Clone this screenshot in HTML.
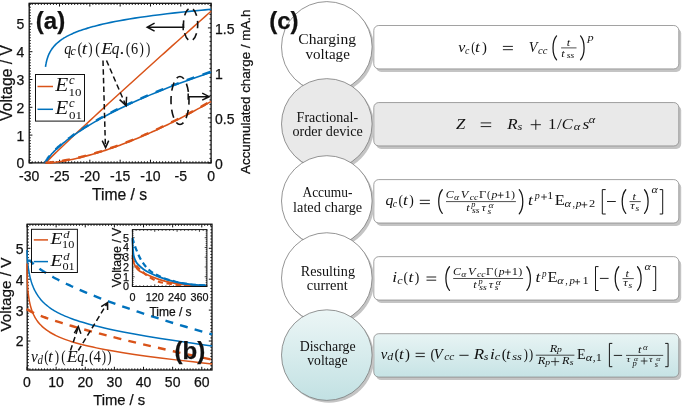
<!DOCTYPE html>
<html><head><meta charset="utf-8"><style>
html,body{margin:0;padding:0;background:#fff;width:685px;height:406px;overflow:hidden}
svg{display:block}
text{fill:#111}
svg{will-change:transform}
</style></head><body>
<svg width="685" height="406" viewBox="0 0 685 406">
<rect width="685" height="406" fill="#fff"/>
<path d="M29.2 162.9 v-3.2 M29.2 3.3 v3.2 M32.23 162.9 v-1.6 M32.23 3.3 v1.6 M35.26 162.9 v-1.6 M35.26 3.3 v1.6 M38.3 162.9 v-1.6 M38.3 3.3 v1.6 M41.33 162.9 v-1.6 M41.33 3.3 v1.6 M44.36 162.9 v-1.6 M44.36 3.3 v1.6 M47.39 162.9 v-1.6 M47.39 3.3 v1.6 M50.42 162.9 v-1.6 M50.42 3.3 v1.6 M53.45 162.9 v-1.6 M53.45 3.3 v1.6 M56.48 162.9 v-1.6 M56.48 3.3 v1.6 M59.52 162.9 v-3.2 M59.52 3.3 v3.2 M62.55 162.9 v-1.6 M62.55 3.3 v1.6 M65.58 162.9 v-1.6 M65.58 3.3 v1.6 M68.61 162.9 v-1.6 M68.61 3.3 v1.6 M71.64 162.9 v-1.6 M71.64 3.3 v1.6 M74.67 162.9 v-1.6 M74.67 3.3 v1.6 M77.71 162.9 v-1.6 M77.71 3.3 v1.6 M80.74 162.9 v-1.6 M80.74 3.3 v1.6 M83.77 162.9 v-1.6 M83.77 3.3 v1.6 M86.8 162.9 v-1.6 M86.8 3.3 v1.6 M89.83 162.9 v-3.2 M89.83 3.3 v3.2 M92.86 162.9 v-1.6 M92.86 3.3 v1.6 M95.9 162.9 v-1.6 M95.9 3.3 v1.6 M98.93 162.9 v-1.6 M98.93 3.3 v1.6 M101.96 162.9 v-1.6 M101.96 3.3 v1.6 M104.99 162.9 v-1.6 M104.99 3.3 v1.6 M108.02 162.9 v-1.6 M108.02 3.3 v1.6 M111.06 162.9 v-1.6 M111.06 3.3 v1.6 M114.09 162.9 v-1.6 M114.09 3.3 v1.6 M117.12 162.9 v-1.6 M117.12 3.3 v1.6 M120.15 162.9 v-3.2 M120.15 3.3 v3.2 M123.18 162.9 v-1.6 M123.18 3.3 v1.6 M126.21 162.9 v-1.6 M126.21 3.3 v1.6 M129.25 162.9 v-1.6 M129.25 3.3 v1.6 M132.28 162.9 v-1.6 M132.28 3.3 v1.6 M135.31 162.9 v-1.6 M135.31 3.3 v1.6 M138.34 162.9 v-1.6 M138.34 3.3 v1.6 M141.37 162.9 v-1.6 M141.37 3.3 v1.6 M144.4 162.9 v-1.6 M144.4 3.3 v1.6 M147.44 162.9 v-1.6 M147.44 3.3 v1.6 M150.47 162.9 v-3.2 M150.47 3.3 v3.2 M153.5 162.9 v-1.6 M153.5 3.3 v1.6 M156.53 162.9 v-1.6 M156.53 3.3 v1.6 M159.56 162.9 v-1.6 M159.56 3.3 v1.6 M162.59 162.9 v-1.6 M162.59 3.3 v1.6 M165.62 162.9 v-1.6 M165.62 3.3 v1.6 M168.66 162.9 v-1.6 M168.66 3.3 v1.6 M171.69 162.9 v-1.6 M171.69 3.3 v1.6 M174.72 162.9 v-1.6 M174.72 3.3 v1.6 M177.75 162.9 v-1.6 M177.75 3.3 v1.6 M180.78 162.9 v-3.2 M180.78 3.3 v3.2 M183.81 162.9 v-1.6 M183.81 3.3 v1.6 M186.85 162.9 v-1.6 M186.85 3.3 v1.6 M189.88 162.9 v-1.6 M189.88 3.3 v1.6 M192.91 162.9 v-1.6 M192.91 3.3 v1.6 M195.94 162.9 v-1.6 M195.94 3.3 v1.6 M198.97 162.9 v-1.6 M198.97 3.3 v1.6 M202 162.9 v-1.6 M202 3.3 v1.6 M205.04 162.9 v-1.6 M205.04 3.3 v1.6 M208.07 162.9 v-1.6 M208.07 3.3 v1.6 M211.1 162.9 v-3.2 M211.1 3.3 v3.2 M29.2 162.9 h3.2 M29.2 160.12 h1.6 M29.2 157.34 h1.6 M29.2 154.56 h1.6 M29.2 151.78 h1.6 M29.2 149 h1.6 M29.2 146.22 h1.6 M29.2 143.44 h1.6 M29.2 140.66 h1.6 M29.2 137.88 h1.6 M29.2 135.1 h3.2 M29.2 132.32 h1.6 M29.2 129.54 h1.6 M29.2 126.76 h1.6 M29.2 123.98 h1.6 M29.2 121.2 h1.6 M29.2 118.42 h1.6 M29.2 115.64 h1.6 M29.2 112.86 h1.6 M29.2 110.08 h1.6 M29.2 107.3 h3.2 M29.2 104.52 h1.6 M29.2 101.74 h1.6 M29.2 98.96 h1.6 M29.2 96.18 h1.6 M29.2 93.4 h1.6 M29.2 90.62 h1.6 M29.2 87.84 h1.6 M29.2 85.06 h1.6 M29.2 82.28 h1.6 M29.2 79.5 h3.2 M29.2 76.72 h1.6 M29.2 73.94 h1.6 M29.2 71.16 h1.6 M29.2 68.38 h1.6 M29.2 65.6 h1.6 M29.2 62.82 h1.6 M29.2 60.04 h1.6 M29.2 57.26 h1.6 M29.2 54.48 h1.6 M29.2 51.7 h3.2 M29.2 48.92 h1.6 M29.2 46.14 h1.6 M29.2 43.36 h1.6 M29.2 40.58 h1.6 M29.2 37.8 h1.6 M29.2 35.02 h1.6 M29.2 32.24 h1.6 M29.2 29.46 h1.6 M29.2 26.68 h1.6 M29.2 23.9 h3.2 M29.2 21.12 h1.6 M29.2 18.34 h1.6 M29.2 15.56 h1.6 M29.2 12.78 h1.6 M29.2 10 h1.6 M29.2 7.22 h1.6 M29.2 4.44 h1.6 M211.1 162.9 h-3.2 M211.1 158.4 h-1.6 M211.1 153.9 h-1.6 M211.1 149.4 h-1.6 M211.1 144.9 h-1.6 M211.1 140.4 h-1.6 M211.1 135.9 h-1.6 M211.1 131.4 h-1.6 M211.1 126.9 h-1.6 M211.1 122.4 h-1.6 M211.1 117.9 h-3.2 M211.1 113.4 h-1.6 M211.1 108.9 h-1.6 M211.1 104.4 h-1.6 M211.1 99.9 h-1.6 M211.1 95.4 h-1.6 M211.1 90.9 h-1.6 M211.1 86.4 h-1.6 M211.1 81.9 h-1.6 M211.1 77.4 h-1.6 M211.1 72.9 h-3.2 M211.1 68.4 h-1.6 M211.1 63.9 h-1.6 M211.1 59.4 h-1.6 M211.1 54.9 h-1.6 M211.1 50.4 h-1.6 M211.1 45.9 h-1.6 M211.1 41.4 h-1.6 M211.1 36.9 h-1.6 M211.1 32.4 h-1.6 M211.1 27.9 h-3.2 M211.1 23.4 h-1.6 M211.1 18.9 h-1.6 M211.1 14.4 h-1.6 M211.1 9.9 h-1.6 M211.1 5.4 h-1.6" stroke="#111111" stroke-width="1.0" fill="none"/>
<rect x="29.2" y="3.3" width="181.9" height="159.6" fill="none" stroke="#111111" stroke-width="1.3"/>
<path d="M45.5 66.85 C45.51 66.76 45.56 66.47 45.58 66.28 C45.61 66.09 45.64 65.9 45.67 65.71 C45.7 65.51 45.74 65.32 45.77 65.13 C45.8 64.93 45.83 64.74 45.87 64.54 C45.9 64.35 45.94 64.15 45.98 63.96 C46.01 63.76 46.05 63.56 46.09 63.37 C46.13 63.17 46.17 62.97 46.21 62.77 C46.25 62.57 46.3 62.38 46.34 62.18 C46.38 61.98 46.43 61.78 46.48 61.57 C46.52 61.37 46.57 61.17 46.62 60.97 C46.67 60.77 46.72 60.57 46.78 60.36 C46.83 60.16 46.88 59.96 46.94 59.75 C47 59.55 47.06 59.34 47.12 59.14 C47.18 58.93 47.24 58.72 47.3 58.52 C47.37 58.31 47.43 58.1 47.5 57.9 C47.57 57.69 47.64 57.48 47.71 57.27 C47.78 57.06 47.86 56.85 47.93 56.64 C48.01 56.43 48.09 56.22 48.17 56.01 C48.25 55.79 48.34 55.58 48.42 55.37 C48.51 55.16 48.6 54.94 48.69 54.73 C48.78 54.51 48.88 54.3 48.98 54.08 C49.07 53.87 49.17 53.65 49.28 53.43 C49.38 53.22 49.49 53 49.6 52.78 C49.71 52.56 49.83 52.34 49.94 52.12 C50.06 51.9 50.18 51.68 50.31 51.46 C50.43 51.24 50.56 51.02 50.69 50.8 C50.83 50.58 50.96 50.35 51.11 50.13 C51.25 49.91 51.39 49.68 51.54 49.46 C51.69 49.23 51.85 49.01 52.01 48.78 C52.17 48.56 52.33 48.33 52.5 48.1 C52.67 47.87 52.85 47.65 53.03 47.42 C53.21 47.19 53.4 46.96 53.59 46.73 C53.78 46.5 53.98 46.27 54.18 46.04 C54.39 45.8 54.6 45.57 54.81 45.34 C55.03 45.11 55.25 44.87 55.48 44.64 C55.71 44.4 55.95 44.17 56.2 43.93 C56.44 43.7 56.7 43.46 56.96 43.22 C57.22 42.99 57.49 42.75 57.76 42.51 C58.04 42.27 58.33 42.03 58.62 41.79 C58.91 41.55 59.22 41.31 59.53 41.07 C59.84 40.83 60.17 40.59 60.5 40.34 C60.83 40.1 61.18 39.86 61.53 39.61 C61.88 39.37 62.25 39.12 62.63 38.88 C63 38.63 63.39 38.39 63.79 38.14 C64.19 37.89 64.6 37.64 65.03 37.4 C65.45 37.15 65.89 36.9 66.34 36.65 C66.8 36.4 67.26 36.15 67.74 35.89 C68.22 35.64 68.72 35.39 69.23 35.14 C69.74 34.88 70.27 34.63 70.81 34.38 C71.35 34.12 71.91 33.87 72.49 33.61 C73.07 33.35 73.66 33.1 74.28 32.84 C74.89 32.58 75.52 32.32 76.17 32.06 C76.83 31.8 77.5 31.54 78.19 31.28 C78.89 31.02 79.6 30.76 80.34 30.5 C81.08 30.24 81.84 29.97 82.62 29.71 C83.41 29.45 84.21 29.18 85.05 28.92 C85.88 28.65 86.74 28.38 87.62 28.12 C88.51 27.85 89.42 27.58 90.37 27.31 C91.31 27.04 92.28 26.78 93.28 26.51 C94.28 26.23 95.31 25.96 96.38 25.69 C97.44 25.42 98.54 25.15 99.67 24.87 C100.8 24.6 101.97 24.33 103.17 24.05 C104.37 23.78 105.61 23.5 106.89 23.22 C108.17 22.95 109.49 22.67 110.85 22.39 C112.21 22.11 113.61 21.83 115.05 21.55 C116.5 21.27 117.99 20.99 119.53 20.71 C121.06 20.43 122.64 20.15 124.28 19.86 C125.91 19.58 127.59 19.3 129.33 19.01 C131.07 18.73 132.86 18.44 134.7 18.15 C136.55 17.87 138.45 17.58 140.41 17.29 C142.38 17 144.4 16.71 146.49 16.42 C148.57 16.13 150.72 15.84 152.94 15.55 C155.16 15.26 157.44 14.96 159.8 14.67 C162.16 14.38 164.59 14.08 167.09 13.79 C169.6 13.49 172.18 13.19 174.85 12.9 C177.51 12.6 180.26 12.3 183.09 12 C185.92 11.7 188.84 11.4 191.85 11.1 C194.86 10.8 197.96 10.5 201.17 10.2 C204.37 9.9 209.42 9.44 211.07 9.29" stroke="#0072BD" stroke-width="1.6" fill="none"/>
<path d="M45.5 163 C46.42 162.06 49.18 159.21 51.02 157.38 C52.86 155.54 54.7 153.77 56.54 151.99 C58.38 150.21 60.22 148.45 62.06 146.7 C63.9 144.94 65.74 143.2 67.58 141.46 C69.42 139.72 71.26 137.98 73.1 136.25 C74.94 134.53 76.78 132.8 78.62 131.09 C80.46 129.37 82.3 127.66 84.14 125.95 C85.98 124.24 87.82 122.53 89.66 120.83 C91.5 119.12 93.34 117.42 95.18 115.73 C97.02 114.03 98.86 112.34 100.7 110.65 C102.54 108.96 104.38 107.27 106.22 105.58 C108.06 103.9 109.9 102.21 111.74 100.53 C113.58 98.85 115.42 97.17 117.26 95.49 C119.1 93.81 120.94 92.14 122.78 90.47 C124.62 88.79 126.46 87.12 128.3 85.45 C130.14 83.78 131.98 82.11 133.82 80.45 C135.66 78.78 137.5 77.12 139.34 75.45 C141.18 73.79 143.02 72.13 144.86 70.47 C146.7 68.81 148.54 67.15 150.38 65.49 C152.22 63.83 154.06 62.17 155.9 60.52 C157.74 58.86 159.58 57.21 161.42 55.56 C163.26 53.91 165.1 52.25 166.94 50.6 C168.78 48.95 170.62 47.3 172.46 45.66 C174.3 44.01 176.14 42.36 177.98 40.72 C179.82 39.07 181.66 37.43 183.5 35.78 C185.34 34.14 187.18 32.5 189.02 30.85 C190.86 29.21 192.7 27.57 194.54 25.93 C196.38 24.29 198.22 22.65 200.06 21.02 C201.9 19.38 203.74 17.74 205.58 16.11 C207.42 14.47 210.18 12.02 211.1 11.2" stroke="#D95319" stroke-width="1.5" fill="none"/>
<path d="M45.5 163 C45.51 162.97 45.54 162.84 45.55 162.8 C45.56 162.77 45.55 162.79 45.56 162.78 C45.56 162.78 45.56 162.77 45.56 162.76 C45.57 162.75 45.57 162.75 45.57 162.74 C45.57 162.73 45.58 162.72 45.58 162.71 C45.58 162.7 45.59 162.69 45.59 162.68 C45.59 162.67 45.6 162.66 45.6 162.65 C45.6 162.64 45.61 162.63 45.61 162.62 C45.62 162.61 45.62 162.59 45.63 162.58 C45.63 162.57 45.64 162.55 45.64 162.54 C45.65 162.53 45.65 162.51 45.66 162.49 C45.67 162.48 45.67 162.46 45.68 162.45 C45.69 162.43 45.69 162.41 45.7 162.39 C45.71 162.37 45.72 162.35 45.73 162.33 C45.73 162.31 45.74 162.29 45.75 162.27 C45.76 162.24 45.77 162.22 45.78 162.19 C45.79 162.17 45.81 162.14 45.82 162.12 C45.83 162.09 45.84 162.06 45.86 162.03 C45.87 162 45.89 161.97 45.9 161.94 C45.92 161.9 45.93 161.87 45.95 161.83 C45.97 161.8 45.99 161.76 46.01 161.72 C46.03 161.68 46.05 161.64 46.07 161.6 C46.09 161.55 46.11 161.51 46.14 161.46 C46.16 161.41 46.19 161.36 46.22 161.31 C46.24 161.26 46.27 161.21 46.31 161.15 C46.34 161.09 46.37 161.03 46.4 160.97 C46.44 160.91 46.48 160.85 46.51 160.78 C46.55 160.71 46.6 160.64 46.64 160.57 C46.68 160.49 46.73 160.41 46.78 160.33 C46.83 160.25 46.88 160.17 46.94 160.08 C46.99 159.99 47.05 159.9 47.11 159.8 C47.18 159.7 47.24 159.6 47.31 159.5 C47.38 159.39 47.45 159.28 47.53 159.17 C47.61 159.05 47.69 158.93 47.78 158.8 C47.87 158.68 47.96 158.55 48.06 158.41 C48.16 158.27 48.27 158.13 48.38 157.98 C48.49 157.83 48.61 157.67 48.73 157.51 C48.86 157.34 48.99 157.17 49.13 157 C49.27 156.82 49.42 156.63 49.57 156.44 C49.73 156.24 49.9 156.04 50.07 155.83 C50.25 155.61 50.44 155.39 50.63 155.16 C50.83 154.93 51.04 154.69 51.26 154.44 C51.49 154.19 51.72 153.93 51.97 153.65 C52.22 153.38 52.49 153.09 52.77 152.8 C53.05 152.5 53.34 152.19 53.66 151.86 C53.97 151.54 54.31 151.2 54.66 150.85 C55.01 150.5 55.39 150.13 55.78 149.75 C56.18 149.37 56.6 148.97 57.05 148.56 C57.49 148.14 57.96 147.71 58.46 147.26 C58.97 146.81 59.49 146.34 60.06 145.85 C60.62 145.36 61.21 144.86 61.84 144.33 C62.47 143.8 63.14 143.25 63.85 142.68 C64.56 142.1 65.3 141.51 66.1 140.89 C66.9 140.27 67.74 139.62 68.63 138.95 C69.53 138.28 70.47 137.58 71.47 136.86 C72.47 136.13 73.53 135.38 74.66 134.6 C75.79 133.81 76.97 133 78.24 132.16 C79.5 131.31 80.83 130.44 82.26 129.52 C83.68 128.61 85.17 127.67 86.77 126.69 C88.36 125.71 90.04 124.69 91.83 123.64 C93.63 122.58 95.51 121.49 97.52 120.36 C99.53 119.22 101.65 118.05 103.91 116.83 C106.17 115.62 108.54 114.36 111.08 113.05 C113.62 111.75 116.28 110.4 119.13 109.01 C121.98 107.61 124.97 106.17 128.17 104.68 C131.37 103.19 134.73 101.65 138.32 100.06 C141.91 98.47 145.68 96.82 149.71 95.13 C153.74 93.43 157.98 91.69 162.5 89.89 C167.03 88.09 171.79 86.23 176.87 84.32 C181.95 82.41 187.29 80.45 192.99 78.42 C198.7 76.4 208.08 73.23 211.1 72.19" stroke="#0072BD" stroke-width="1.6" fill="none"/>
<path d="M45.5 163 C45.51 162.97 45.54 162.84 45.55 162.8 C45.56 162.77 45.55 162.79 45.56 162.78 C45.56 162.78 45.56 162.77 45.56 162.76 C45.57 162.75 45.57 162.75 45.57 162.74 C45.57 162.73 45.58 162.72 45.58 162.71 C45.58 162.7 45.59 162.69 45.59 162.68 C45.59 162.67 45.6 162.66 45.6 162.65 C45.6 162.64 45.61 162.63 45.61 162.62 C45.62 162.61 45.62 162.59 45.63 162.58 C45.63 162.57 45.64 162.55 45.64 162.54 C45.65 162.53 45.65 162.51 45.66 162.49 C45.67 162.48 45.67 162.46 45.68 162.45 C45.69 162.43 45.69 162.41 45.7 162.39 C45.71 162.37 45.72 162.35 45.73 162.33 C45.73 162.31 45.74 162.29 45.75 162.27 C45.76 162.24 45.77 162.22 45.78 162.19 C45.79 162.17 45.81 162.14 45.82 162.12 C45.83 162.09 45.84 162.06 45.86 162.03 C45.87 162 45.89 161.97 45.9 161.94 C45.92 161.9 45.93 161.87 45.95 161.83 C45.97 161.8 45.99 161.76 46.01 161.72 C46.03 161.68 46.05 161.64 46.07 161.6 C46.09 161.55 46.11 161.51 46.14 161.46 C46.16 161.41 46.19 161.36 46.22 161.31 C46.24 161.26 46.27 161.21 46.31 161.15 C46.34 161.09 46.37 161.03 46.4 160.97 C46.44 160.91 46.48 160.85 46.51 160.78 C46.55 160.71 46.6 160.64 46.64 160.57 C46.68 160.49 46.73 160.41 46.78 160.33 C46.83 160.25 46.88 160.17 46.94 160.08 C46.99 159.99 47.05 159.9 47.11 159.8 C47.18 159.7 47.24 159.6 47.31 159.5 C47.38 159.39 47.45 159.28 47.53 159.17 C47.61 159.05 47.69 158.93 47.78 158.8 C47.87 158.68 47.96 158.55 48.06 158.41 C48.16 158.27 48.27 158.13 48.38 157.98 C48.49 157.83 48.61 157.67 48.73 157.51 C48.86 157.34 48.99 157.17 49.13 157 C49.27 156.82 49.42 156.63 49.57 156.44 C49.73 156.24 49.9 156.04 50.07 155.83 C50.25 155.61 50.44 155.39 50.63 155.16 C50.83 154.93 51.04 154.69 51.26 154.44 C51.49 154.19 51.72 153.93 51.97 153.65 C52.22 153.38 52.49 153.09 52.77 152.8 C53.05 152.5 53.34 152.19 53.66 151.86 C53.97 151.54 54.31 151.2 54.66 150.85 C55.01 150.5 55.39 150.13 55.78 149.75 C56.18 149.37 56.6 148.97 57.05 148.56 C57.49 148.14 57.96 147.71 58.46 147.26 C58.97 146.81 59.49 146.34 60.06 145.85 C60.62 145.36 61.21 144.86 61.84 144.33 C62.47 143.8 63.14 143.25 63.85 142.68 C64.56 142.1 65.3 141.51 66.1 140.89 C66.9 140.27 67.74 139.62 68.63 138.95 C69.53 138.28 70.47 137.58 71.47 136.86 C72.47 136.13 73.53 135.38 74.66 134.6 C75.79 133.81 76.97 133 78.24 132.16 C79.5 131.31 80.83 130.44 82.26 129.52 C83.68 128.61 85.17 127.67 86.77 126.69 C88.36 125.71 90.04 124.69 91.83 123.64 C93.63 122.58 95.51 121.49 97.52 120.36 C99.53 119.22 101.65 118.05 103.91 116.83 C106.17 115.62 108.54 114.36 111.08 113.05 C113.62 111.75 116.28 110.4 119.13 109.01 C121.98 107.61 124.97 106.17 128.17 104.68 C131.37 103.19 134.73 101.65 138.32 100.06 C141.91 98.47 145.68 96.82 149.71 95.13 C153.74 93.43 157.98 91.69 162.5 89.89 C167.03 88.09 171.79 86.23 176.87 84.32 C181.95 82.41 187.29 80.45 192.99 78.42 C198.7 76.4 208.08 73.23 211.1 72.19" stroke="#0072BD" stroke-width="2.4" stroke-dasharray="8 8.6" fill="none" transform="translate(0,-0.5)"/>
<path d="M45.5 163 C46.05 162.98 47.71 162.93 48.81 162.86 C49.92 162.79 51.02 162.69 52.12 162.58 C53.23 162.47 54.33 162.35 55.44 162.21 C56.54 162.08 57.64 161.93 58.75 161.77 C59.85 161.61 60.96 161.44 62.06 161.27 C63.16 161.09 64.27 160.9 65.37 160.7 C66.48 160.5 67.58 160.29 68.68 160.08 C69.79 159.86 70.89 159.64 72 159.41 C73.1 159.17 74.2 158.93 75.31 158.69 C76.41 158.44 77.52 158.18 78.62 157.92 C79.72 157.66 80.83 157.39 81.93 157.11 C83.04 156.84 84.14 156.55 85.24 156.26 C86.35 155.97 87.45 155.67 88.56 155.37 C89.66 155.07 90.76 154.76 91.87 154.44 C92.97 154.13 94.08 153.81 95.18 153.48 C96.28 153.15 97.39 152.82 98.49 152.48 C99.6 152.14 100.7 151.79 101.8 151.44 C102.91 151.09 104.01 150.73 105.12 150.37 C106.22 150.01 107.32 149.64 108.43 149.26 C109.53 148.89 110.64 148.51 111.74 148.13 C112.84 147.74 113.95 147.35 115.05 146.96 C116.16 146.56 117.26 146.16 118.36 145.76 C119.47 145.35 120.57 144.94 121.68 144.53 C122.78 144.11 123.88 143.69 124.99 143.27 C126.09 142.84 127.2 142.42 128.3 141.98 C129.4 141.55 130.51 141.11 131.61 140.66 C132.72 140.22 133.82 139.77 134.92 139.32 C136.03 138.86 137.13 138.41 138.24 137.94 C139.34 137.48 140.44 137.02 141.55 136.54 C142.65 136.07 143.76 135.6 144.86 135.12 C145.96 134.64 147.07 134.15 148.17 133.66 C149.28 133.17 150.38 132.68 151.48 132.18 C152.59 131.69 153.69 131.18 154.8 130.68 C155.9 130.17 157 129.66 158.11 129.15 C159.21 128.63 160.32 128.11 161.42 127.59 C162.52 127.07 163.63 126.54 164.73 126.01 C165.84 125.48 166.94 124.95 168.04 124.41 C169.15 123.87 170.25 123.32 171.36 122.78 C172.46 122.23 173.56 121.68 174.67 121.12 C175.77 120.57 176.88 120.01 177.98 119.45 C179.08 118.89 180.19 118.32 181.29 117.75 C182.4 117.18 183.5 116.61 184.6 116.03 C185.71 115.45 186.81 114.87 187.92 114.28 C189.02 113.7 190.12 113.11 191.23 112.52 C192.33 111.92 193.44 111.33 194.54 110.73 C195.64 110.13 196.75 109.52 197.85 108.91 C198.96 108.31 200.06 107.7 201.16 107.08 C202.27 106.47 203.37 105.85 204.48 105.23 C205.58 104.6 206.68 103.98 207.79 103.35 C208.89 102.72 210.55 101.77 211.1 101.45" stroke="#D95319" stroke-width="1.6" fill="none"/>
<path d="M45.5 163 C46.05 162.98 47.71 162.93 48.81 162.86 C49.92 162.79 51.02 162.69 52.12 162.58 C53.23 162.47 54.33 162.35 55.44 162.21 C56.54 162.08 57.64 161.93 58.75 161.77 C59.85 161.61 60.96 161.44 62.06 161.27 C63.16 161.09 64.27 160.9 65.37 160.7 C66.48 160.5 67.58 160.29 68.68 160.08 C69.79 159.86 70.89 159.64 72 159.41 C73.1 159.17 74.2 158.93 75.31 158.69 C76.41 158.44 77.52 158.18 78.62 157.92 C79.72 157.66 80.83 157.39 81.93 157.11 C83.04 156.84 84.14 156.55 85.24 156.26 C86.35 155.97 87.45 155.67 88.56 155.37 C89.66 155.07 90.76 154.76 91.87 154.44 C92.97 154.13 94.08 153.81 95.18 153.48 C96.28 153.15 97.39 152.82 98.49 152.48 C99.6 152.14 100.7 151.79 101.8 151.44 C102.91 151.09 104.01 150.73 105.12 150.37 C106.22 150.01 107.32 149.64 108.43 149.26 C109.53 148.89 110.64 148.51 111.74 148.13 C112.84 147.74 113.95 147.35 115.05 146.96 C116.16 146.56 117.26 146.16 118.36 145.76 C119.47 145.35 120.57 144.94 121.68 144.53 C122.78 144.11 123.88 143.69 124.99 143.27 C126.09 142.84 127.2 142.42 128.3 141.98 C129.4 141.55 130.51 141.11 131.61 140.66 C132.72 140.22 133.82 139.77 134.92 139.32 C136.03 138.86 137.13 138.41 138.24 137.94 C139.34 137.48 140.44 137.02 141.55 136.54 C142.65 136.07 143.76 135.6 144.86 135.12 C145.96 134.64 147.07 134.15 148.17 133.66 C149.28 133.17 150.38 132.68 151.48 132.18 C152.59 131.69 153.69 131.18 154.8 130.68 C155.9 130.17 157 129.66 158.11 129.15 C159.21 128.63 160.32 128.11 161.42 127.59 C162.52 127.07 163.63 126.54 164.73 126.01 C165.84 125.48 166.94 124.95 168.04 124.41 C169.15 123.87 170.25 123.32 171.36 122.78 C172.46 122.23 173.56 121.68 174.67 121.12 C175.77 120.57 176.88 120.01 177.98 119.45 C179.08 118.89 180.19 118.32 181.29 117.75 C182.4 117.18 183.5 116.61 184.6 116.03 C185.71 115.45 186.81 114.87 187.92 114.28 C189.02 113.7 190.12 113.11 191.23 112.52 C192.33 111.92 193.44 111.33 194.54 110.73 C195.64 110.13 196.75 109.52 197.85 108.91 C198.96 108.31 200.06 107.7 201.16 107.08 C202.27 106.47 203.37 105.85 204.48 105.23 C205.58 104.6 206.68 103.98 207.79 103.35 C208.89 102.72 210.55 101.77 211.1 101.45" stroke="#D95319" stroke-width="2.4" stroke-dasharray="8 8.6" fill="none" transform="translate(0,-0.4)"/>
<ellipse cx="190.6" cy="24.4" rx="7.1" ry="16.3" fill="none" stroke="#111" stroke-width="1.6" stroke-dasharray="7.7 5" stroke-dashoffset="3.85"/>
<ellipse cx="180" cy="100.5" rx="9" ry="24" fill="none" stroke="#111" stroke-width="1.6" stroke-dasharray="8.4 5.24" stroke-dashoffset="4.2"/>
<path d="M183.2 27.2 H147 M154.6 23.2 L147.2 27.2 L154.6 31.2 M183.2 23.8 V30.2" stroke="#111" stroke-width="1.5" fill="none"/>
<path d="M188.2 96.7 H208.8 M202.2 93.2 L209.2 96.7 L202.2 100.2 M188.2 93.6 V99.8" stroke="#111" stroke-width="1.5" fill="none"/>
<path d="M103.0 60.5 L105.4 146" stroke="#111" stroke-width="1.5" stroke-dasharray="5.5 3.2" fill="none"/>
<path d="M102.2 140.6 L105.6 147.6 L108.7 140.6" stroke="#111" stroke-width="1.5" fill="none" stroke-linejoin="miter"/>
<path d="M106.5 60.5 L125.5 104.5" stroke="#111" stroke-width="1.5" stroke-dasharray="5.5 3.2" fill="none"/>
<path d="M119.6 99.6 L126.1 105.6 L126.6 96.8" stroke="#111" stroke-width="1.5" fill="none" stroke-linejoin="miter"/>
<rect x="35.5" y="74.5" width="49" height="46.6" fill="#fff" stroke="#111111" stroke-width="1"/>
<path d="M37.5 86.5 H53" stroke="#D95319" stroke-width="1.5"/>
<path d="M37.5 109.3 H53" stroke="#0072BD" stroke-width="1.5"/>
<text x="35.8" y="29.1" style="font-size:24px;font-family:'Liberation Sans',sans-serif;stroke:#111;stroke-width:0.25px;font-weight:bold" text-anchor="start" >(a)</text>
<text x="29.2" y="181.3" style="font-size:14px;font-family:'Liberation Sans',sans-serif;stroke:#111;stroke-width:0.25px" text-anchor="middle" >-30</text>
<text x="59.52" y="181.3" style="font-size:14px;font-family:'Liberation Sans',sans-serif;stroke:#111;stroke-width:0.25px" text-anchor="middle" >-25</text>
<text x="89.83" y="181.3" style="font-size:14px;font-family:'Liberation Sans',sans-serif;stroke:#111;stroke-width:0.25px" text-anchor="middle" >-20</text>
<text x="120.15" y="181.3" style="font-size:14px;font-family:'Liberation Sans',sans-serif;stroke:#111;stroke-width:0.25px" text-anchor="middle" >-15</text>
<text x="150.47" y="181.3" style="font-size:14px;font-family:'Liberation Sans',sans-serif;stroke:#111;stroke-width:0.25px" text-anchor="middle" >-10</text>
<text x="180.78" y="181.3" style="font-size:14px;font-family:'Liberation Sans',sans-serif;stroke:#111;stroke-width:0.25px" text-anchor="middle" >-5</text>
<text x="211.1" y="181.3" style="font-size:14px;font-family:'Liberation Sans',sans-serif;stroke:#111;stroke-width:0.25px" text-anchor="middle" >0</text>
<text x="24.2" y="168.4" style="font-size:14px;font-family:'Liberation Sans',sans-serif;stroke:#111;stroke-width:0.25px" text-anchor="end" >0</text>
<text x="24.2" y="140.6" style="font-size:14px;font-family:'Liberation Sans',sans-serif;stroke:#111;stroke-width:0.25px" text-anchor="end" >1</text>
<text x="24.2" y="112.8" style="font-size:14px;font-family:'Liberation Sans',sans-serif;stroke:#111;stroke-width:0.25px" text-anchor="end" >2</text>
<text x="24.2" y="85" style="font-size:14px;font-family:'Liberation Sans',sans-serif;stroke:#111;stroke-width:0.25px" text-anchor="end" >3</text>
<text x="24.2" y="57.2" style="font-size:14px;font-family:'Liberation Sans',sans-serif;stroke:#111;stroke-width:0.25px" text-anchor="end" >4</text>
<text x="24.2" y="29.4" style="font-size:14px;font-family:'Liberation Sans',sans-serif;stroke:#111;stroke-width:0.25px" text-anchor="end" >5</text>
<text x="215" y="168.6" style="font-size:14px;font-family:'Liberation Sans',sans-serif;stroke:#111;stroke-width:0.25px" text-anchor="start" >0</text>
<text x="215" y="123.6" style="font-size:14px;font-family:'Liberation Sans',sans-serif;stroke:#111;stroke-width:0.25px" text-anchor="start" >0.5</text>
<text x="215" y="78.6" style="font-size:14px;font-family:'Liberation Sans',sans-serif;stroke:#111;stroke-width:0.25px" text-anchor="start" >1</text>
<text x="215" y="33.6" style="font-size:14px;font-family:'Liberation Sans',sans-serif;stroke:#111;stroke-width:0.25px" text-anchor="start" >1.5</text>
<text x="119.5" y="200.2" style="font-size:15.7px;font-family:'Liberation Sans',sans-serif;stroke:#111;stroke-width:0.25px" text-anchor="middle" >Time / s</text>
<text transform="translate(11.6,83) rotate(-90)" x="0" y="0" style="font-size:15.7px;font-family:'Liberation Sans',sans-serif;stroke:#111;stroke-width:0.25px" text-anchor="middle">Voltage / V</text>
<text transform="translate(249.8,91.7) rotate(-90)" x="0" y="0" style="font-size:13.4px;font-family:'Liberation Sans',sans-serif;stroke:#111;stroke-width:0.25px" text-anchor="middle">Accumulated charge / mA.h</text>
<path d="M27 370 v-3.2 M27 224.2 v3.2 M29.91 370 v-1.6 M29.91 224.2 v1.6 M32.83 370 v-1.6 M32.83 224.2 v1.6 M35.74 370 v-1.6 M35.74 224.2 v1.6 M38.65 370 v-1.6 M38.65 224.2 v1.6 M41.56 370 v-1.6 M41.56 224.2 v1.6 M44.48 370 v-1.6 M44.48 224.2 v1.6 M47.39 370 v-1.6 M47.39 224.2 v1.6 M50.3 370 v-1.6 M50.3 224.2 v1.6 M53.22 370 v-1.6 M53.22 224.2 v1.6 M56.13 370 v-3.2 M56.13 224.2 v3.2 M59.04 370 v-1.6 M59.04 224.2 v1.6 M61.96 370 v-1.6 M61.96 224.2 v1.6 M64.87 370 v-1.6 M64.87 224.2 v1.6 M67.78 370 v-1.6 M67.78 224.2 v1.6 M70.69 370 v-1.6 M70.69 224.2 v1.6 M73.61 370 v-1.6 M73.61 224.2 v1.6 M76.52 370 v-1.6 M76.52 224.2 v1.6 M79.43 370 v-1.6 M79.43 224.2 v1.6 M82.35 370 v-1.6 M82.35 224.2 v1.6 M85.26 370 v-3.2 M85.26 224.2 v3.2 M88.17 370 v-1.6 M88.17 224.2 v1.6 M91.09 370 v-1.6 M91.09 224.2 v1.6 M94 370 v-1.6 M94 224.2 v1.6 M96.91 370 v-1.6 M96.91 224.2 v1.6 M99.82 370 v-1.6 M99.82 224.2 v1.6 M102.74 370 v-1.6 M102.74 224.2 v1.6 M105.65 370 v-1.6 M105.65 224.2 v1.6 M108.56 370 v-1.6 M108.56 224.2 v1.6 M111.48 370 v-1.6 M111.48 224.2 v1.6 M114.39 370 v-3.2 M114.39 224.2 v3.2 M117.3 370 v-1.6 M117.3 224.2 v1.6 M120.22 370 v-1.6 M120.22 224.2 v1.6 M123.13 370 v-1.6 M123.13 224.2 v1.6 M126.04 370 v-1.6 M126.04 224.2 v1.6 M128.95 370 v-1.6 M128.95 224.2 v1.6 M131.87 370 v-1.6 M131.87 224.2 v1.6 M134.78 370 v-1.6 M134.78 224.2 v1.6 M137.69 370 v-1.6 M137.69 224.2 v1.6 M140.61 370 v-1.6 M140.61 224.2 v1.6 M143.52 370 v-3.2 M143.52 224.2 v3.2 M146.43 370 v-1.6 M146.43 224.2 v1.6 M149.35 370 v-1.6 M149.35 224.2 v1.6 M152.26 370 v-1.6 M152.26 224.2 v1.6 M155.17 370 v-1.6 M155.17 224.2 v1.6 M158.08 370 v-1.6 M158.08 224.2 v1.6 M161 370 v-1.6 M161 224.2 v1.6 M163.91 370 v-1.6 M163.91 224.2 v1.6 M166.82 370 v-1.6 M166.82 224.2 v1.6 M169.74 370 v-1.6 M169.74 224.2 v1.6 M172.65 370 v-3.2 M172.65 224.2 v3.2 M175.56 370 v-1.6 M175.56 224.2 v1.6 M178.48 370 v-1.6 M178.48 224.2 v1.6 M181.39 370 v-1.6 M181.39 224.2 v1.6 M184.3 370 v-1.6 M184.3 224.2 v1.6 M187.22 370 v-1.6 M187.22 224.2 v1.6 M190.13 370 v-1.6 M190.13 224.2 v1.6 M193.04 370 v-1.6 M193.04 224.2 v1.6 M195.95 370 v-1.6 M195.95 224.2 v1.6 M198.87 370 v-1.6 M198.87 224.2 v1.6 M201.78 370 v-3.2 M201.78 224.2 v3.2 M204.69 370 v-1.6 M204.69 224.2 v1.6 M207.61 370 v-1.6 M207.61 224.2 v1.6 M210.52 370 v-1.6 M210.52 224.2 v1.6 M27.2 368.81 h1.6 M212 368.81 h-1.6 M27.2 365.72 h1.6 M212 365.72 h-1.6 M27.2 362.63 h1.6 M212 362.63 h-1.6 M27.2 359.54 h1.6 M212 359.54 h-1.6 M27.2 356.45 h1.6 M212 356.45 h-1.6 M27.2 353.36 h1.6 M212 353.36 h-1.6 M27.2 350.27 h1.6 M212 350.27 h-1.6 M27.2 347.18 h1.6 M212 347.18 h-1.6 M27.2 344.09 h1.6 M212 344.09 h-1.6 M27.2 341 h3.2 M212 341 h-3.2 M27.2 337.91 h1.6 M212 337.91 h-1.6 M27.2 334.82 h1.6 M212 334.82 h-1.6 M27.2 331.73 h1.6 M212 331.73 h-1.6 M27.2 328.64 h1.6 M212 328.64 h-1.6 M27.2 325.55 h1.6 M212 325.55 h-1.6 M27.2 322.46 h1.6 M212 322.46 h-1.6 M27.2 319.37 h1.6 M212 319.37 h-1.6 M27.2 316.28 h1.6 M212 316.28 h-1.6 M27.2 313.19 h1.6 M212 313.19 h-1.6 M27.2 310.1 h3.2 M212 310.1 h-3.2 M27.2 307.01 h1.6 M212 307.01 h-1.6 M27.2 303.92 h1.6 M212 303.92 h-1.6 M27.2 300.83 h1.6 M212 300.83 h-1.6 M27.2 297.74 h1.6 M212 297.74 h-1.6 M27.2 294.65 h1.6 M212 294.65 h-1.6 M27.2 291.56 h1.6 M212 291.56 h-1.6 M27.2 288.47 h1.6 M212 288.47 h-1.6 M27.2 285.38 h1.6 M212 285.38 h-1.6 M27.2 282.29 h1.6 M212 282.29 h-1.6 M27.2 279.2 h3.2 M212 279.2 h-3.2 M27.2 276.11 h1.6 M212 276.11 h-1.6 M27.2 273.02 h1.6 M212 273.02 h-1.6 M27.2 269.93 h1.6 M212 269.93 h-1.6 M27.2 266.84 h1.6 M212 266.84 h-1.6 M27.2 263.75 h1.6 M212 263.75 h-1.6 M27.2 260.66 h1.6 M212 260.66 h-1.6 M27.2 257.57 h1.6 M212 257.57 h-1.6 M27.2 254.48 h1.6 M212 254.48 h-1.6 M27.2 251.39 h1.6 M212 251.39 h-1.6 M27.2 248.3 h3.2 M212 248.3 h-3.2 M27.2 245.21 h1.6 M212 245.21 h-1.6 M27.2 242.12 h1.6 M212 242.12 h-1.6 M27.2 239.03 h1.6 M212 239.03 h-1.6 M27.2 235.94 h1.6 M212 235.94 h-1.6 M27.2 232.85 h1.6 M212 232.85 h-1.6 M27.2 229.76 h1.6 M212 229.76 h-1.6 M27.2 226.67 h1.6 M212 226.67 h-1.6" stroke="#111111" stroke-width="1.0" fill="none"/>
<rect x="27.2" y="224.2" width="184.8" height="145.8" fill="none" stroke="#111111" stroke-width="1.3"/>
<path d="M27 250 C27 250.14 27.01 250.68 27.01 250.83 C27.01 250.98 27.01 250.88 27.01 250.9 C27.01 250.92 27.01 250.94 27.01 250.96 C27.01 250.99 27.01 251.01 27.01 251.04 C27.01 251.06 27.01 251.09 27.02 251.11 C27.02 251.14 27.02 251.17 27.02 251.2 C27.02 251.23 27.02 251.26 27.02 251.29 C27.02 251.32 27.02 251.35 27.02 251.38 C27.02 251.41 27.02 251.45 27.02 251.48 C27.02 251.52 27.03 251.56 27.03 251.59 C27.03 251.63 27.03 251.67 27.03 251.71 C27.03 251.75 27.03 251.8 27.03 251.84 C27.03 251.88 27.04 251.93 27.04 251.98 C27.04 252.02 27.04 252.07 27.04 252.12 C27.04 252.17 27.04 252.22 27.05 252.28 C27.05 252.33 27.05 252.39 27.05 252.45 C27.05 252.5 27.06 252.56 27.06 252.63 C27.06 252.69 27.06 252.75 27.06 252.82 C27.07 252.89 27.07 252.95 27.07 253.02 C27.07 253.1 27.08 253.17 27.08 253.25 C27.08 253.32 27.09 253.4 27.09 253.48 C27.09 253.56 27.1 253.65 27.1 253.73 C27.1 253.82 27.11 253.91 27.11 254 C27.11 254.1 27.12 254.19 27.12 254.29 C27.13 254.39 27.13 254.49 27.14 254.6 C27.14 254.71 27.15 254.82 27.15 254.93 C27.16 255.04 27.16 255.16 27.17 255.28 C27.18 255.4 27.18 255.53 27.19 255.66 C27.2 255.79 27.2 255.92 27.21 256.06 C27.22 256.19 27.23 256.33 27.24 256.48 C27.25 256.63 27.25 256.78 27.26 256.93 C27.27 257.09 27.28 257.25 27.3 257.42 C27.31 257.58 27.32 257.75 27.33 257.93 C27.34 258.1 27.35 258.29 27.37 258.47 C27.38 258.66 27.39 258.85 27.41 259.05 C27.42 259.25 27.44 259.45 27.46 259.66 C27.47 259.87 27.49 260.09 27.51 260.31 C27.53 260.53 27.55 260.76 27.57 261 C27.59 261.23 27.61 261.47 27.63 261.72 C27.66 261.97 27.68 262.23 27.71 262.49 C27.73 262.75 27.76 263.02 27.79 263.3 C27.82 263.57 27.85 263.85 27.88 264.15 C27.91 264.44 27.95 264.73 27.98 265.04 C28.02 265.35 28.05 265.66 28.09 265.98 C28.13 266.3 28.18 266.63 28.22 266.97 C28.26 267.3 28.31 267.65 28.36 268 C28.41 268.35 28.46 268.71 28.52 269.08 C28.57 269.44 28.63 269.82 28.69 270.2 C28.75 270.59 28.82 270.98 28.89 271.38 C28.96 271.78 29.03 272.18 29.11 272.6 C29.18 273.01 29.26 273.43 29.35 273.86 C29.43 274.29 29.52 274.73 29.62 275.18 C29.72 275.62 29.82 276.08 29.92 276.54 C30.03 277 30.14 277.47 30.26 277.94 C30.38 278.41 30.5 278.9 30.64 279.38 C30.77 279.87 30.91 280.37 31.06 280.87 C31.2 281.37 31.36 281.88 31.52 282.39 C31.69 282.91 31.86 283.43 32.04 283.95 C32.23 284.48 32.42 285.01 32.63 285.55 C32.83 286.08 33.05 286.63 33.28 287.17 C33.5 287.72 33.74 288.27 34 288.82 C34.26 289.38 34.52 289.94 34.81 290.5 C35.09 291.07 35.39 291.63 35.71 292.2 C36.03 292.77 36.36 293.35 36.71 293.92 C37.07 294.5 37.44 295.07 37.83 295.66 C38.23 296.24 38.64 296.82 39.08 297.4 C39.52 297.99 39.99 298.57 40.48 299.16 C40.97 299.75 41.48 300.34 42.03 300.92 C42.58 301.51 43.15 302.1 43.77 302.69 C44.38 303.28 45.02 303.88 45.7 304.47 C46.38 305.06 47.1 305.65 47.86 306.24 C48.62 306.83 49.42 307.43 50.26 308.02 C51.11 308.61 52 309.2 52.95 309.79 C53.89 310.38 54.89 310.98 55.94 311.57 C57 312.16 58.1 312.75 59.28 313.35 C60.46 313.94 61.69 314.53 63.01 315.12 C64.32 315.72 65.69 316.31 67.16 316.91 C68.62 317.5 70.16 318.1 71.79 318.7 C73.43 319.3 75.14 319.9 76.96 320.5 C78.78 321.11 80.69 321.71 82.72 322.32 C84.76 322.93 86.89 323.54 89.15 324.16 C91.42 324.78 93.79 325.4 96.32 326.03 C98.85 326.66 101.5 327.3 104.32 327.94 C107.14 328.59 110.1 329.24 113.24 329.9 C116.39 330.56 119.68 331.23 123.19 331.91 C126.7 332.59 130.38 333.28 134.29 333.99 C138.2 334.7 142.3 335.42 146.67 336.16 C151.03 336.9 155.6 337.65 160.47 338.43 C165.34 339.2 170.44 339.99 175.87 340.81 C181.3 341.62 186.99 342.46 193.04 343.33 C199.1 344.19 209.01 345.56 212.2 346" stroke="#0072BD" stroke-width="1.5" fill="none"/>
<path d="M27 263.4 C27 263.95 27.01 266.14 27.01 266.72 C27.01 267.3 27.01 266.84 27.01 266.91 C27.01 266.97 27.01 267.04 27.01 267.1 C27.01 267.17 27.01 267.24 27.01 267.31 C27.01 267.38 27.01 267.45 27.02 267.53 C27.02 267.6 27.02 267.68 27.02 267.76 C27.02 267.84 27.02 267.92 27.02 268 C27.02 268.08 27.02 268.17 27.02 268.25 C27.02 268.34 27.02 268.43 27.02 268.52 C27.02 268.61 27.03 268.71 27.03 268.8 C27.03 268.9 27.03 269 27.03 269.1 C27.03 269.2 27.03 269.31 27.03 269.41 C27.03 269.52 27.04 269.63 27.04 269.74 C27.04 269.85 27.04 269.97 27.04 270.09 C27.04 270.2 27.04 270.33 27.05 270.45 C27.05 270.57 27.05 270.7 27.05 270.83 C27.05 270.96 27.06 271.09 27.06 271.23 C27.06 271.37 27.06 271.5 27.06 271.65 C27.07 271.79 27.07 271.94 27.07 272.09 C27.07 272.24 27.08 272.39 27.08 272.55 C27.08 272.71 27.09 272.87 27.09 273.03 C27.09 273.2 27.1 273.36 27.1 273.54 C27.1 273.71 27.11 273.88 27.11 274.07 C27.11 274.25 27.12 274.43 27.12 274.62 C27.13 274.81 27.13 275 27.14 275.2 C27.14 275.39 27.15 275.6 27.15 275.8 C27.16 276.01 27.16 276.22 27.17 276.43 C27.18 276.65 27.18 276.87 27.19 277.09 C27.2 277.32 27.2 277.55 27.21 277.78 C27.22 278.01 27.23 278.25 27.24 278.5 C27.25 278.74 27.25 278.99 27.26 279.24 C27.27 279.5 27.28 279.75 27.3 280.02 C27.31 280.28 27.32 280.55 27.33 280.82 C27.34 281.1 27.35 281.38 27.37 281.66 C27.38 281.95 27.39 282.24 27.41 282.53 C27.42 282.83 27.44 283.13 27.46 283.43 C27.47 283.74 27.49 284.05 27.51 284.37 C27.53 284.68 27.55 285.01 27.57 285.33 C27.59 285.66 27.61 285.99 27.63 286.33 C27.66 286.67 27.68 287.01 27.71 287.36 C27.73 287.71 27.76 288.07 27.79 288.43 C27.82 288.79 27.85 289.16 27.88 289.53 C27.91 289.9 27.95 290.27 27.98 290.66 C28.02 291.04 28.05 291.42 28.09 291.82 C28.13 292.21 28.18 292.61 28.22 293.01 C28.26 293.41 28.31 293.82 28.36 294.23 C28.41 294.65 28.46 295.06 28.52 295.49 C28.57 295.91 28.63 296.34 28.69 296.77 C28.75 297.2 28.82 297.64 28.89 298.08 C28.96 298.52 29.03 298.97 29.11 299.42 C29.18 299.87 29.26 300.32 29.35 300.78 C29.43 301.24 29.52 301.7 29.62 302.17 C29.72 302.64 29.82 303.11 29.92 303.58 C30.03 304.05 30.14 304.53 30.26 305.01 C30.38 305.49 30.5 305.98 30.64 306.46 C30.77 306.95 30.91 307.44 31.06 307.93 C31.2 308.43 31.36 308.92 31.52 309.42 C31.69 309.92 31.86 310.42 32.04 310.92 C32.23 311.42 32.42 311.93 32.63 312.43 C32.83 312.94 33.05 313.45 33.28 313.96 C33.5 314.47 33.74 314.98 34 315.49 C34.26 316 34.52 316.52 34.81 317.03 C35.09 317.54 35.39 318.06 35.71 318.58 C36.03 319.09 36.36 319.61 36.71 320.13 C37.07 320.64 37.44 321.16 37.83 321.68 C38.23 322.19 38.64 322.71 39.08 323.23 C39.52 323.75 39.99 324.26 40.48 324.78 C40.97 325.3 41.48 325.82 42.03 326.33 C42.58 326.85 43.15 327.36 43.77 327.88 C44.38 328.39 45.02 328.91 45.7 329.42 C46.38 329.94 47.1 330.45 47.86 330.96 C48.62 331.48 49.42 331.99 50.26 332.5 C51.11 333.01 52 333.52 52.95 334.03 C53.89 334.54 54.89 335.05 55.94 335.56 C57 336.07 58.1 336.58 59.28 337.09 C60.46 337.6 61.69 338.11 63.01 338.62 C64.32 339.13 65.69 339.63 67.16 340.14 C68.62 340.65 70.16 341.16 71.79 341.67 C73.43 342.18 75.14 342.69 76.96 343.21 C78.78 343.72 80.69 344.23 82.72 344.75 C84.76 345.27 86.89 345.78 89.15 346.3 C91.42 346.82 93.79 347.35 96.32 347.88 C98.85 348.4 101.5 348.93 104.32 349.47 C107.14 350 110.1 350.54 113.24 351.09 C116.39 351.63 119.68 352.18 123.19 352.74 C126.7 353.3 130.38 353.87 134.29 354.44 C138.2 355.01 142.3 355.59 146.67 356.19 C151.03 356.78 155.6 357.38 160.47 357.99 C165.34 358.61 170.44 359.23 175.87 359.87 C181.3 360.51 186.99 361.16 193.04 361.83 C199.1 362.5 209.01 363.55 212.2 363.89" stroke="#D95319" stroke-width="1.5" fill="none"/>
<path d="M27.2 309.2 C27.2 309.2 27.21 309.2 27.21 309.2 C27.22 309.2 27.22 309.2 27.22 309.2 C27.22 309.2 27.22 309.21 27.22 309.21 C27.22 309.21 27.22 309.21 27.22 309.21 C27.22 309.21 27.22 309.21 27.22 309.21 C27.22 309.22 27.22 309.22 27.23 309.22 C27.23 309.22 27.23 309.22 27.23 309.22 C27.23 309.23 27.23 309.23 27.23 309.23 C27.23 309.23 27.24 309.23 27.24 309.24 C27.24 309.24 27.24 309.24 27.24 309.24 C27.24 309.24 27.24 309.25 27.25 309.25 C27.25 309.25 27.25 309.25 27.25 309.26 C27.25 309.26 27.26 309.26 27.26 309.27 C27.26 309.27 27.26 309.27 27.27 309.28 C27.27 309.28 27.27 309.28 27.27 309.29 C27.28 309.29 27.28 309.29 27.28 309.3 C27.29 309.3 27.29 309.31 27.29 309.31 C27.3 309.31 27.3 309.32 27.31 309.32 C27.31 309.33 27.32 309.33 27.32 309.34 C27.33 309.34 27.33 309.35 27.34 309.36 C27.34 309.36 27.35 309.37 27.35 309.37 C27.36 309.38 27.36 309.39 27.37 309.39 C27.38 309.4 27.39 309.41 27.39 309.42 C27.4 309.42 27.41 309.43 27.42 309.44 C27.43 309.45 27.44 309.46 27.44 309.47 C27.45 309.48 27.46 309.48 27.48 309.49 C27.49 309.5 27.5 309.52 27.51 309.53 C27.52 309.54 27.54 309.55 27.55 309.56 C27.56 309.57 27.58 309.59 27.59 309.6 C27.61 309.61 27.62 309.63 27.64 309.64 C27.66 309.65 27.68 309.67 27.7 309.68 C27.72 309.7 27.74 309.72 27.76 309.73 C27.78 309.75 27.81 309.77 27.83 309.79 C27.86 309.81 27.88 309.83 27.91 309.85 C27.94 309.87 27.97 309.89 28 309.91 C28.03 309.94 28.06 309.96 28.1 309.99 C28.14 310.01 28.17 310.04 28.21 310.06 C28.25 310.09 28.3 310.12 28.34 310.15 C28.39 310.18 28.43 310.21 28.48 310.24 C28.53 310.28 28.59 310.31 28.64 310.35 C28.7 310.38 28.76 310.42 28.83 310.46 C28.89 310.5 28.96 310.54 29.03 310.59 C29.1 310.63 29.18 310.67 29.26 310.72 C29.34 310.77 29.43 310.82 29.52 310.87 C29.61 310.92 29.71 310.98 29.81 311.03 C29.91 311.09 30.02 311.15 30.14 311.21 C30.26 311.28 30.38 311.34 30.51 311.41 C30.64 311.48 30.78 311.55 30.92 311.63 C31.07 311.7 31.23 311.78 31.39 311.86 C31.56 311.94 31.73 312.03 31.92 312.12 C32.11 312.21 32.3 312.3 32.51 312.4 C32.72 312.5 32.94 312.6 33.18 312.71 C33.42 312.82 33.66 312.93 33.93 313.05 C34.2 313.17 34.48 313.3 34.78 313.43 C35.08 313.56 35.39 313.69 35.73 313.83 C36.06 313.98 36.42 314.13 36.8 314.28 C37.18 314.44 37.58 314.6 38.01 314.77 C38.43 314.94 38.88 315.12 39.36 315.31 C39.84 315.5 40.35 315.69 40.89 315.9 C41.43 316.11 42 316.32 42.61 316.55 C43.22 316.77 43.86 317.01 44.55 317.25 C45.23 317.5 45.95 317.76 46.73 318.03 C47.5 318.3 48.31 318.58 49.18 318.88 C50.05 319.18 50.96 319.48 51.94 319.81 C52.92 320.14 53.95 320.47 55.05 320.83 C56.15 321.19 57.31 321.56 58.55 321.95 C59.79 322.34 61.09 322.75 62.49 323.18 C63.88 323.6 65.35 324.05 66.92 324.52 C68.49 324.99 70.14 325.48 71.91 325.99 C73.68 326.51 75.54 327.04 77.53 327.61 C79.52 328.17 81.61 328.76 83.85 329.37 C86.09 329.99 88.45 330.64 90.97 331.31 C93.49 331.99 96.14 332.69 98.98 333.44 C101.82 334.18 104.8 334.95 108 335.76 C111.19 336.58 114.55 337.42 118.15 338.31 C121.74 339.21 125.52 340.13 129.57 341.11 C133.62 342.09 137.88 343.1 142.43 344.17 C146.99 345.24 151.78 346.36 156.91 347.53 C162.04 348.71 167.43 349.93 173.21 351.21 C178.98 352.5 185.05 353.84 191.55 355.24 C198.05 356.65 208.76 358.93 212.2 359.66" stroke="#D95319" stroke-width="2.4" stroke-dasharray="8 7.2" fill="none"/>
<path d="M27.2 260.6 C27.7 260.62 29.67 260.67 30.2 260.73 C30.73 260.78 30.3 260.84 30.36 260.91 C30.41 260.97 30.47 261.03 30.53 261.09 C30.58 261.15 30.64 261.22 30.7 261.28 C30.76 261.35 30.82 261.41 30.89 261.48 C30.95 261.55 31.01 261.62 31.08 261.69 C31.15 261.76 31.22 261.83 31.29 261.9 C31.36 261.97 31.43 262.05 31.5 262.12 C31.58 262.2 31.65 262.27 31.73 262.35 C31.81 262.43 31.89 262.5 31.97 262.58 C32.05 262.66 32.14 262.75 32.22 262.83 C32.31 262.91 32.4 263 32.49 263.08 C32.58 263.17 32.67 263.25 32.77 263.34 C32.86 263.43 32.96 263.52 33.06 263.61 C33.16 263.7 33.27 263.8 33.37 263.89 C33.48 263.99 33.59 264.08 33.7 264.18 C33.81 264.28 33.92 264.38 34.04 264.48 C34.16 264.58 34.28 264.68 34.4 264.79 C34.53 264.89 34.65 265 34.78 265.11 C34.91 265.22 35.05 265.33 35.18 265.44 C35.32 265.55 35.46 265.67 35.61 265.78 C35.75 265.9 35.9 266.02 36.05 266.14 C36.2 266.26 36.36 266.38 36.52 266.51 C36.68 266.63 36.84 266.76 37.01 266.88 C37.18 267.01 37.35 267.14 37.53 267.28 C37.71 267.41 37.89 267.55 38.08 267.68 C38.26 267.82 38.46 267.96 38.65 268.1 C38.85 268.25 39.05 268.39 39.26 268.54 C39.46 268.69 39.68 268.84 39.9 268.99 C40.11 269.14 40.34 269.3 40.57 269.45 C40.8 269.61 41.03 269.77 41.27 269.94 C41.51 270.1 41.76 270.27 42.02 270.43 C42.27 270.6 42.53 270.78 42.8 270.95 C43.07 271.12 43.34 271.3 43.63 271.48 C43.91 271.66 44.2 271.85 44.49 272.03 C44.79 272.22 45.1 272.41 45.41 272.61 C45.72 272.8 46.04 273 46.37 273.2 C46.7 273.4 47.04 273.6 47.38 273.81 C47.73 274.01 48.09 274.23 48.45 274.44 C48.82 274.65 49.19 274.87 49.58 275.09 C49.96 275.32 50.35 275.54 50.76 275.77 C51.16 276 51.58 276.23 52 276.47 C52.43 276.71 52.87 276.95 53.32 277.2 C53.76 277.44 54.22 277.69 54.7 277.94 C55.17 278.2 55.65 278.46 56.15 278.72 C56.65 278.98 57.16 279.25 57.68 279.52 C58.2 279.79 58.74 280.07 59.29 280.35 C59.84 280.63 60.41 280.92 60.99 281.21 C61.57 281.5 62.16 281.8 62.78 282.1 C63.39 282.4 64.01 282.71 64.66 283.02 C65.3 283.33 65.96 283.65 66.64 283.97 C67.31 284.29 68.01 284.62 68.72 284.95 C69.44 285.29 70.17 285.63 70.92 285.97 C71.67 286.32 72.44 286.67 73.23 287.02 C74.02 287.38 74.83 287.74 75.66 288.11 C76.5 288.48 77.35 288.86 78.22 289.24 C79.1 289.62 80 290.01 80.92 290.41 C81.85 290.8 82.79 291.2 83.76 291.61 C84.73 292.02 85.73 292.44 86.75 292.86 C87.78 293.29 88.82 293.72 89.9 294.15 C90.98 294.59 92.08 295.04 93.22 295.49 C94.35 295.94 95.51 296.4 96.71 296.87 C97.9 297.34 99.13 297.82 100.38 298.3 C101.64 298.79 102.93 299.28 104.25 299.78 C105.58 300.28 106.93 300.79 108.33 301.31 C109.72 301.83 111.15 302.36 112.62 302.9 C114.08 303.43 115.59 303.98 117.13 304.54 C118.68 305.09 120.26 305.66 121.89 306.23 C123.51 306.81 125.18 307.39 126.89 307.98 C128.61 308.58 130.36 309.18 132.16 309.8 C133.97 310.42 135.81 311.04 137.71 311.68 C139.61 312.31 141.56 312.96 143.56 313.62 C145.56 314.28 147.6 314.95 149.71 315.63 C151.81 316.31 153.97 317 156.19 317.71 C158.4 318.41 160.67 319.13 163.01 319.86 C165.34 320.59 167.73 321.33 170.19 322.09 C172.64 322.84 175.16 323.61 177.75 324.39 C180.33 325.17 182.98 325.96 185.71 326.77 C188.43 327.58 191.22 328.4 194.09 329.24 C196.95 330.07 199.89 330.92 202.91 331.79 C205.93 332.65 210.65 333.98 212.2 334.42" stroke="#0072BD" stroke-width="2.4" stroke-dasharray="8 7.2" fill="none"/>
<rect x="132.4" y="229.6" width="74.5" height="56.9" fill="#fff" stroke="none"/>
<path d="M132.4 286.5 v-2.2 M132.4 229.6 v2.2 M136.12 286.5 v-1.2 M136.12 229.6 v1.2 M139.85 286.5 v-1.2 M139.85 229.6 v1.2 M143.58 286.5 v-1.2 M143.58 229.6 v1.2 M147.3 286.5 v-1.2 M147.3 229.6 v1.2 M151.03 286.5 v-1.2 M151.03 229.6 v1.2 M154.75 286.5 v-2.2 M154.75 229.6 v2.2 M158.47 286.5 v-1.2 M158.47 229.6 v1.2 M162.2 286.5 v-1.2 M162.2 229.6 v1.2 M165.93 286.5 v-1.2 M165.93 229.6 v1.2 M169.65 286.5 v-1.2 M169.65 229.6 v1.2 M173.38 286.5 v-1.2 M173.38 229.6 v1.2 M177.1 286.5 v-2.2 M177.1 229.6 v2.2 M180.82 286.5 v-1.2 M180.82 229.6 v1.2 M184.55 286.5 v-1.2 M184.55 229.6 v1.2 M188.28 286.5 v-1.2 M188.28 229.6 v1.2 M192 286.5 v-1.2 M192 229.6 v1.2 M195.73 286.5 v-1.2 M195.73 229.6 v1.2 M199.45 286.5 v-2.2 M199.45 229.6 v2.2 M203.18 286.5 v-1.2 M203.18 229.6 v1.2 M206.9 286.5 v-1.2 M206.9 229.6 v1.2 M132.4 286.5 h2.2 M206.9 286.5 h-2.2 M132.4 284.55 h1.2 M206.9 284.55 h-1.2 M132.4 282.6 h1.2 M206.9 282.6 h-1.2 M132.4 280.64 h1.2 M206.9 280.64 h-1.2 M132.4 278.69 h1.2 M206.9 278.69 h-1.2 M132.4 276.74 h2.2 M206.9 276.74 h-2.2 M132.4 274.79 h1.2 M206.9 274.79 h-1.2 M132.4 272.84 h1.2 M206.9 272.84 h-1.2 M132.4 270.88 h1.2 M206.9 270.88 h-1.2 M132.4 268.93 h1.2 M206.9 268.93 h-1.2 M132.4 266.98 h2.2 M206.9 266.98 h-2.2 M132.4 265.03 h1.2 M206.9 265.03 h-1.2 M132.4 263.08 h1.2 M206.9 263.08 h-1.2 M132.4 261.12 h1.2 M206.9 261.12 h-1.2 M132.4 259.17 h1.2 M206.9 259.17 h-1.2 M132.4 257.22 h2.2 M206.9 257.22 h-2.2 M132.4 255.27 h1.2 M206.9 255.27 h-1.2 M132.4 253.32 h1.2 M206.9 253.32 h-1.2 M132.4 251.36 h1.2 M206.9 251.36 h-1.2 M132.4 249.41 h1.2 M206.9 249.41 h-1.2 M132.4 247.46 h2.2 M206.9 247.46 h-2.2 M132.4 245.51 h1.2 M206.9 245.51 h-1.2 M132.4 243.56 h1.2 M206.9 243.56 h-1.2 M132.4 241.6 h1.2 M206.9 241.6 h-1.2 M132.4 239.65 h1.2 M206.9 239.65 h-1.2 M132.4 237.7 h2.2 M206.9 237.7 h-2.2 M132.4 235.75 h1.2 M206.9 235.75 h-1.2 M132.4 233.8 h1.2 M206.9 233.8 h-1.2 M132.4 231.84 h1.2 M206.9 231.84 h-1.2 M132.4 229.89 h1.2 M206.9 229.89 h-1.2" stroke="#111111" stroke-width="0.8" fill="none"/>
<path d="M132.4 255.2 C132.58 256.38 132.65 259.93 133.5 262.3 C134.35 264.67 135.78 267.57 137.5 269.4 C139.22 271.23 140.13 271.6 143.8 273.3 C147.47 275 154.25 277.92 159.5 279.6 C164.75 281.28 170.05 282.45 175.3 283.4 C180.55 284.35 185.8 284.87 191 285.3 C196.2 285.73 203.92 285.88 206.5 286" stroke="#D95319" stroke-width="1.7" fill="none"/>
<path d="M132.4 257.5 C132.85 258.57 133.47 261.53 135.1 263.9 C136.73 266.27 138.92 268.98 142.2 271.7 C145.48 274.42 150.6 278.23 154.8 280.2 C159 282.17 162.37 282.63 167.4 283.5 C172.43 284.37 178.48 284.98 185 285.4 C191.52 285.82 202.92 285.9 206.5 286" stroke="#D95319" stroke-width="2.2" stroke-dasharray="5.5 3.5" fill="none"/>
<path d="M132.4 239.4 C132.58 241.9 133.07 251.05 133.5 254.4 C133.93 257.75 134.33 257.92 135 259.5 C135.67 261.08 136.03 262.25 137.5 263.9 C138.97 265.55 141.72 267.88 143.8 269.4 C145.88 270.92 147.38 271.72 150 273 C152.62 274.28 155.28 275.63 159.5 277.1 C163.72 278.57 170.05 280.58 175.3 281.8 C180.55 283.02 185.8 283.77 191 284.4 C196.2 285.03 203.92 285.4 206.5 285.6" stroke="#0072BD" stroke-width="1.8" fill="none"/>
<path d="M132.4 237.8 C132.85 239.25 133.73 242.95 135.1 246.5 C136.47 250.05 138.37 255.28 140.6 259.1 C142.83 262.92 145.35 266.53 148.5 269.4 C151.65 272.27 155.08 274.28 159.5 276.3 C163.92 278.32 169.75 280.13 175 281.5 C180.25 282.87 185.75 283.83 191 284.5 C196.25 285.17 203.92 285.33 206.5 285.5" stroke="#0072BD" stroke-width="2.2" stroke-dasharray="5.5 3.5" fill="none"/>
<rect x="132.4" y="229.6" width="74.5" height="56.9" fill="none" stroke="#111111" stroke-width="1"/>
<text x="129" y="290.3" style="font-size:10.8px;font-family:'Liberation Sans',sans-serif;stroke:#111;stroke-width:0.25px" text-anchor="end" >0</text>
<text x="129" y="280.54" style="font-size:10.8px;font-family:'Liberation Sans',sans-serif;stroke:#111;stroke-width:0.25px" text-anchor="end" >1</text>
<text x="129" y="270.78" style="font-size:10.8px;font-family:'Liberation Sans',sans-serif;stroke:#111;stroke-width:0.25px" text-anchor="end" >2</text>
<text x="129" y="261.02" style="font-size:10.8px;font-family:'Liberation Sans',sans-serif;stroke:#111;stroke-width:0.25px" text-anchor="end" >3</text>
<text x="129" y="251.26" style="font-size:10.8px;font-family:'Liberation Sans',sans-serif;stroke:#111;stroke-width:0.25px" text-anchor="end" >4</text>
<text x="129" y="241.5" style="font-size:10.8px;font-family:'Liberation Sans',sans-serif;stroke:#111;stroke-width:0.25px" text-anchor="end" >5</text>
<text x="132.4" y="300.7" style="font-size:10.8px;font-family:'Liberation Sans',sans-serif;stroke:#111;stroke-width:0.25px" text-anchor="middle" >0</text>
<text x="154.75" y="300.7" style="font-size:10.8px;font-family:'Liberation Sans',sans-serif;stroke:#111;stroke-width:0.25px" text-anchor="middle" >120</text>
<text x="177.1" y="300.7" style="font-size:10.8px;font-family:'Liberation Sans',sans-serif;stroke:#111;stroke-width:0.25px" text-anchor="middle" >240</text>
<text x="199.45" y="300.7" style="font-size:10.8px;font-family:'Liberation Sans',sans-serif;stroke:#111;stroke-width:0.25px" text-anchor="middle" >360</text>
<text x="170.5" y="315.6" style="font-size:12px;font-family:'Liberation Sans',sans-serif;stroke:#111;stroke-width:0.25px" text-anchor="middle" >Time / s</text>
<text transform="translate(120.5,257.5) rotate(-90)" x="0" y="0" style="font-size:12.3px;font-family:'Liberation Sans',sans-serif;stroke:#111;stroke-width:0.25px" text-anchor="middle">Voltage / V</text>
<rect x="31.5" y="229.3" width="45.9" height="43.2" fill="none" stroke="#111111" stroke-width="1"/>
<path d="M33.8 239.9 H48" stroke="#D95319" stroke-width="1.5"/>
<path d="M33.8 261.6 H48" stroke="#0072BD" stroke-width="1.5"/>
<path d="M70.5 350.5 L77.8 328.5" stroke="#111" stroke-width="1.5" stroke-dasharray="5.5 3.2" fill="none"/>
<path d="M74.3 333.2 L78.3 326.6 L80.9 333.8" stroke="#111" stroke-width="1.5" fill="none" stroke-linejoin="miter"/>
<path d="M78.3 350.5 L106.8 304" stroke="#111" stroke-width="1.5" stroke-dasharray="5.5 3.2" fill="none"/>
<path d="M101.2 306.6 L107.6 302.6 L107.6 310" stroke="#111" stroke-width="1.5" fill="none" stroke-linejoin="miter"/>
<text x="174.5" y="359.2" style="font-size:24px;font-family:'Liberation Sans',sans-serif;stroke:#111;stroke-width:0.25px;font-weight:bold" text-anchor="start" >(b)</text>
<text x="27" y="387.2" style="font-size:14px;font-family:'Liberation Sans',sans-serif;stroke:#111;stroke-width:0.25px" text-anchor="middle" >0</text>
<text x="56.13" y="387.2" style="font-size:14px;font-family:'Liberation Sans',sans-serif;stroke:#111;stroke-width:0.25px" text-anchor="middle" >10</text>
<text x="85.26" y="387.2" style="font-size:14px;font-family:'Liberation Sans',sans-serif;stroke:#111;stroke-width:0.25px" text-anchor="middle" >20</text>
<text x="114.39" y="387.2" style="font-size:14px;font-family:'Liberation Sans',sans-serif;stroke:#111;stroke-width:0.25px" text-anchor="middle" >30</text>
<text x="143.52" y="387.2" style="font-size:14px;font-family:'Liberation Sans',sans-serif;stroke:#111;stroke-width:0.25px" text-anchor="middle" >40</text>
<text x="172.65" y="387.2" style="font-size:14px;font-family:'Liberation Sans',sans-serif;stroke:#111;stroke-width:0.25px" text-anchor="middle" >50</text>
<text x="201.78" y="387.2" style="font-size:14px;font-family:'Liberation Sans',sans-serif;stroke:#111;stroke-width:0.25px" text-anchor="middle" >60</text>
<text x="23.6" y="346.4" style="font-size:14px;font-family:'Liberation Sans',sans-serif;stroke:#111;stroke-width:0.25px" text-anchor="end" >2</text>
<text x="23.6" y="315.5" style="font-size:14px;font-family:'Liberation Sans',sans-serif;stroke:#111;stroke-width:0.25px" text-anchor="end" >3</text>
<text x="23.6" y="284.6" style="font-size:14px;font-family:'Liberation Sans',sans-serif;stroke:#111;stroke-width:0.25px" text-anchor="end" >4</text>
<text x="23.6" y="253.7" style="font-size:14px;font-family:'Liberation Sans',sans-serif;stroke:#111;stroke-width:0.25px" text-anchor="end" >5</text>
<text x="119.2" y="404.5" style="font-size:14.8px;font-family:'Liberation Sans',sans-serif;stroke:#111;stroke-width:0.25px" text-anchor="middle" >Time / s</text>
<text transform="translate(11.3,294.6) rotate(-90)" x="0" y="0" style="font-size:15.3px;font-family:'Liberation Sans',sans-serif;stroke:#111;stroke-width:0.25px" text-anchor="middle">Voltage / V</text>
<defs><linearGradient id="tealg" x1="0" y1="0" x2="0" y2="1"><stop offset="0" stop-color="#ecf6f6"/><stop offset="1" stop-color="#c2e1e3"/></linearGradient><linearGradient id="tealb" x1="0" y1="0" x2="0" y2="1"><stop offset="0" stop-color="#e8f4f4"/><stop offset="1" stop-color="#c6e3e5"/></linearGradient></defs>
<rect x="376.2" y="28.5" width="305" height="43.4" rx="5" fill="#c4c4c4"/>
<rect x="373.8" y="25.5" width="305" height="43.4" rx="5" fill="#ffffff" stroke="#8a8a8a" stroke-width="0.8"/>
<rect x="376.2" y="105.55" width="305" height="43.4" rx="5" fill="#c4c4c4"/>
<rect x="373.8" y="102.55" width="305" height="43.4" rx="5" fill="#e9e9e9" stroke="#8a8a8a" stroke-width="0.8"/>
<rect x="376.2" y="182.6" width="305" height="43.4" rx="5" fill="#c4c4c4"/>
<rect x="373.8" y="179.6" width="305" height="43.4" rx="5" fill="#ffffff" stroke="#8a8a8a" stroke-width="0.8"/>
<rect x="376.2" y="259.65" width="305" height="43.4" rx="5" fill="#c4c4c4"/>
<rect x="373.8" y="256.65" width="305" height="43.4" rx="5" fill="#ffffff" stroke="#8a8a8a" stroke-width="0.8"/>
<rect x="376.2" y="336.7" width="305" height="43.4" rx="5" fill="#c4c4c4"/>
<rect x="373.8" y="333.7" width="305" height="43.4" rx="5" fill="url(#tealb)" stroke="#8a8a8a" stroke-width="0.8"/>
<circle cx="329" cy="49.3" r="45.3" fill="#c4c4c4"/>
<circle cx="326.8" cy="46.9" r="45.3" fill="#ffffff" stroke="#7a7a7a" stroke-width="0.8"/>
<circle cx="329" cy="126.35" r="45.3" fill="#c4c4c4"/>
<circle cx="326.8" cy="123.95" r="45.3" fill="#e9e9e9" stroke="#7a7a7a" stroke-width="0.8"/>
<circle cx="329" cy="203.4" r="45.3" fill="#c4c4c4"/>
<circle cx="326.8" cy="201" r="45.3" fill="#ffffff" stroke="#7a7a7a" stroke-width="0.8"/>
<circle cx="329" cy="280.45" r="45.3" fill="#c4c4c4"/>
<circle cx="326.8" cy="278.05" r="45.3" fill="#ffffff" stroke="#7a7a7a" stroke-width="0.8"/>
<circle cx="329" cy="357.5" r="45.3" fill="#c4c4c4"/>
<circle cx="326.8" cy="355.1" r="45.3" fill="url(#tealg)" stroke="#7a7a7a" stroke-width="0.8"/>
<text x="298.26" y="44.2" style="font-size:14px;font-family:'Liberation Serif',serif" textLength="57.73" lengthAdjust="spacingAndGlyphs">Charging</text>
<text x="305.5" y="58.5" style="font-size:14px;font-family:'Liberation Serif',serif" textLength="44.32" lengthAdjust="spacingAndGlyphs">voltage</text>
<text x="296.6" y="121.7" style="font-size:14px;font-family:'Liberation Serif',serif" textLength="61.51" lengthAdjust="spacingAndGlyphs">Fractional-</text>
<text x="292.56" y="136" style="font-size:14px;font-family:'Liberation Serif',serif" textLength="70.13" lengthAdjust="spacingAndGlyphs">order device</text>
<text x="302.47" y="197.4" style="font-size:14px;font-family:'Liberation Serif',serif" textLength="49.92" lengthAdjust="spacingAndGlyphs">Accumu-</text>
<text x="293.12" y="211.6" style="font-size:14px;font-family:'Liberation Serif',serif" textLength="69.08" lengthAdjust="spacingAndGlyphs">lated charge</text>
<text x="300.69" y="275.8" style="font-size:14px;font-family:'Liberation Serif',serif" textLength="54.28" lengthAdjust="spacingAndGlyphs">Resulting</text>
<text x="306.75" y="289.8" style="font-size:14px;font-family:'Liberation Serif',serif" textLength="41.04" lengthAdjust="spacingAndGlyphs">current</text>
<text x="299.7" y="351.1" style="font-size:14px;font-family:'Liberation Serif',serif" textLength="55.87" lengthAdjust="spacingAndGlyphs">Discharge</text>
<text x="307.3" y="365.4" style="font-size:14px;font-family:'Liberation Serif',serif" textLength="40.17" lengthAdjust="spacingAndGlyphs">voltage</text>
<text x="269.2" y="29.1" style="font-size:24px;font-family:'Liberation Sans',sans-serif;stroke:#111;stroke-width:0.25px;font-weight:bold" text-anchor="start" >(c)</text>
<text x="458.38" y="51.6" style="font-size:14.8px;font-family:'Liberation Serif',serif;font-style:italic" textLength="7.02" lengthAdjust="spacingAndGlyphs">v</text>
<text x="465.09" y="53.5" style="font-size:10.5px;font-family:'Liberation Serif',serif;font-style:italic" textLength="4.41" lengthAdjust="spacingAndGlyphs">c</text>
<text x="471.16" y="51.6" style="font-size:14.8px;font-family:'Liberation Serif',serif" textLength="3.94" lengthAdjust="spacingAndGlyphs">(</text>
<text x="475.02" y="51.6" style="font-size:14.8px;font-family:'Liberation Serif',serif;font-style:italic" textLength="4.85" lengthAdjust="spacingAndGlyphs">t</text>
<text x="482.02" y="51.6" style="font-size:14.8px;font-family:'Liberation Serif',serif" textLength="4.93" lengthAdjust="spacingAndGlyphs">)</text>
<path d="M502.9 46.4 H512.9 M502.9 49.7 H512.9" stroke="#161616" stroke-width="0.95"/>
<text x="528.66" y="51.6" style="font-size:14.8px;font-family:'Liberation Serif',serif;font-style:italic" textLength="8.68" lengthAdjust="spacingAndGlyphs">V</text>
<text x="538.07" y="53.5" style="font-size:10.5px;font-family:'Liberation Serif',serif;font-style:italic" textLength="9.44" lengthAdjust="spacingAndGlyphs">cc</text>
<path d="M556.58 35.92 C551.84 41.47 551.84 54.33 556.58 59.88" fill="none" stroke="#161616" stroke-width="1.25" stroke-linecap="round"/>
<text x="566.68" y="46.2" style="font-size:10.5px;font-family:'Liberation Serif',serif;font-style:italic" textLength="3.44" lengthAdjust="spacingAndGlyphs">t</text>
<path d="M561.1 47.9 H576.5" stroke="#161616" stroke-width="0.75"/>
<text x="561.23" y="56.6" style="font-size:10.5px;font-family:'Liberation Serif',serif;font-style:italic" textLength="3.44" lengthAdjust="spacingAndGlyphs">t</text>
<text x="566.77" y="57.7" style="font-size:8.2px;font-family:'Liberation Serif',serif;font-style:italic" textLength="7.53" lengthAdjust="spacingAndGlyphs">ss</text>
<path d="M580.52 35.92 C585.26 41.47 585.26 54.33 580.52 59.88" fill="none" stroke="#161616" stroke-width="1.25" stroke-linecap="round"/>
<text x="587.62" y="41.3" style="font-size:10.5px;font-family:'Liberation Serif',serif;font-style:italic" textLength="6.15" lengthAdjust="spacingAndGlyphs">p</text>
<text x="455.9" y="128.6" style="font-size:14.8px;font-family:'Liberation Serif',serif;font-style:italic" textLength="9.27" lengthAdjust="spacingAndGlyphs">Z</text>
<path d="M480.7 122.9 H491.2 M480.7 126.6 H491.2" stroke="#161616" stroke-width="0.95"/>
<text x="507.39" y="128.6" style="font-size:14.8px;font-family:'Liberation Serif',serif;font-style:italic" textLength="10.39" lengthAdjust="spacingAndGlyphs">R</text>
<text x="517.6" y="129.9" style="font-size:10.5px;font-family:'Liberation Serif',serif;font-style:italic" textLength="4.82" lengthAdjust="spacingAndGlyphs">s</text>
<path d="M530.7 124.7 H540.9 M535.8 119.6 V129.8" stroke="#161616" stroke-width="0.95"/>
<text x="548.13" y="128.6" style="font-size:14.8px;font-family:'Liberation Serif',serif" textLength="8.38" lengthAdjust="spacingAndGlyphs">1</text>
<text x="557.07" y="128.6" style="font-size:14.8px;font-family:'Liberation Serif',serif" textLength="4.85" lengthAdjust="spacingAndGlyphs">/</text>
<text x="561.89" y="128.6" style="font-size:14.8px;font-family:'Liberation Serif',serif;font-style:italic" textLength="10.96" lengthAdjust="spacingAndGlyphs">C</text>
<text x="573.76" y="129.9" style="font-size:10.5px;font-family:'Liberation Serif',serif;font-style:italic" textLength="6.5" lengthAdjust="spacingAndGlyphs">α</text>
<text x="582.51" y="128.6" style="font-size:14.8px;font-family:'Liberation Serif',serif;font-style:italic" textLength="6.8" lengthAdjust="spacingAndGlyphs">s</text>
<text x="588.76" y="122.5" style="font-size:10.5px;font-family:'Liberation Serif',serif;font-style:italic" textLength="6.5" lengthAdjust="spacingAndGlyphs">α</text>
<text x="385.58" y="205.2" style="font-size:14.8px;font-family:'Liberation Serif',serif;font-style:italic" textLength="7.89" lengthAdjust="spacingAndGlyphs">q</text>
<text x="392.8" y="206.8" style="font-size:10.5px;font-family:'Liberation Serif',serif;font-style:italic" textLength="4.3" lengthAdjust="spacingAndGlyphs">c</text>
<text x="398.6" y="205.2" style="font-size:14.8px;font-family:'Liberation Serif',serif" textLength="4.54" lengthAdjust="spacingAndGlyphs">(</text>
<text x="403.02" y="205.2" style="font-size:14.8px;font-family:'Liberation Serif',serif;font-style:italic" textLength="4.85" lengthAdjust="spacingAndGlyphs">t</text>
<text x="409.26" y="205.2" style="font-size:14.8px;font-family:'Liberation Serif',serif" textLength="4.54" lengthAdjust="spacingAndGlyphs">)</text>
<path d="M419.8 200.3 H429.9 M419.8 203.6 H429.9" stroke="#161616" stroke-width="0.95"/>
<path d="M442.27 189.72 C437.54 195.2 437.54 207.9 442.27 213.38" fill="none" stroke="#161616" stroke-width="1.25" stroke-linecap="round"/>
<text x="445.74" y="198.3" style="font-size:10.5px;font-family:'Liberation Serif',serif;font-style:italic" textLength="7.95" lengthAdjust="spacingAndGlyphs">C</text>
<text x="454.14" y="199.8" style="font-size:8.2px;font-family:'Liberation Serif',serif;font-style:italic" textLength="5.08" lengthAdjust="spacingAndGlyphs">α</text>
<text x="460.75" y="198.3" style="font-size:10.5px;font-family:'Liberation Serif',serif;font-style:italic" textLength="7.57" lengthAdjust="spacingAndGlyphs">V</text>
<text x="469.81" y="199.8" style="font-size:8.2px;font-family:'Liberation Serif',serif;font-style:italic" textLength="8.59" lengthAdjust="spacingAndGlyphs">cc</text>
<text x="478.94" y="198.3" style="font-size:10.5px;font-family:'Liberation Serif',serif" textLength="7.16" lengthAdjust="spacingAndGlyphs">Γ</text>
<text x="486.94" y="198.3" style="font-size:10.5px;font-family:'Liberation Serif',serif" textLength="3.5" lengthAdjust="spacingAndGlyphs">(</text>
<text x="491.59" y="198.3" style="font-size:10.5px;font-family:'Liberation Serif',serif;font-style:italic" textLength="5.87" lengthAdjust="spacingAndGlyphs">p</text>
<path d="M497.6 195.2 H503.6 M500.6 192.2 V198.2" stroke="#161616" stroke-width="0.8"/>
<text x="504.53" y="198.3" style="font-size:10.5px;font-family:'Liberation Serif',serif" textLength="6.19" lengthAdjust="spacingAndGlyphs">1</text>
<text x="511.11" y="198.3" style="font-size:10.5px;font-family:'Liberation Serif',serif" textLength="4.02" lengthAdjust="spacingAndGlyphs">)</text>
<path d="M446 201.6 H515.9" stroke="#161616" stroke-width="0.75"/>
<text x="466.18" y="210.6" style="font-size:10.5px;font-family:'Liberation Serif',serif;font-style:italic" textLength="3.44" lengthAdjust="spacingAndGlyphs">t</text>
<text x="471.39" y="206.9" style="font-size:8.2px;font-family:'Liberation Serif',serif;font-style:italic" textLength="4.16" lengthAdjust="spacingAndGlyphs">p</text>
<text x="471.97" y="212.9" style="font-size:8.2px;font-family:'Liberation Serif',serif;font-style:italic" textLength="7.53" lengthAdjust="spacingAndGlyphs">ss</text>
<text x="481.56" y="210.6" style="font-size:10.5px;font-family:'Liberation Serif',serif;font-style:italic" textLength="4.43" lengthAdjust="spacingAndGlyphs">τ</text>
<text x="488.54" y="208" style="font-size:8.2px;font-family:'Liberation Serif',serif;font-style:italic" textLength="5.08" lengthAdjust="spacingAndGlyphs">α</text>
<text x="487.55" y="213.5" style="font-size:8.2px;font-family:'Liberation Serif',serif;font-style:italic" textLength="3.77" lengthAdjust="spacingAndGlyphs">s</text>
<path d="M519.23 189.72 C523.96 195.31 523.96 208.29 519.23 213.88" fill="none" stroke="#161616" stroke-width="1.25" stroke-linecap="round"/>
<text x="527.97" y="205.2" style="font-size:14.8px;font-family:'Liberation Serif',serif;font-style:italic" textLength="4.85" lengthAdjust="spacingAndGlyphs">t</text>
<text x="534.79" y="199" style="font-size:10.5px;font-family:'Liberation Serif',serif;font-style:italic" textLength="5.02" lengthAdjust="spacingAndGlyphs">p</text>
<path d="M541.2 197 H546.9 M544.05 194.15 V199.85" stroke="#161616" stroke-width="0.8"/>
<text x="547.15" y="199.1" style="font-size:10.5px;font-family:'Liberation Serif',serif" textLength="5.97" lengthAdjust="spacingAndGlyphs">1</text>
<text x="554.72" y="205.2" style="font-size:14.8px;font-family:'Liberation Serif',serif" textLength="10.1" lengthAdjust="spacingAndGlyphs">E</text>
<text x="564.56" y="207" style="font-size:10.5px;font-family:'Liberation Serif',serif;font-style:italic" textLength="6.5" lengthAdjust="spacingAndGlyphs">α</text>
<text x="572.52" y="207" style="font-size:10.5px;font-family:'Liberation Serif',serif" textLength="2.52" lengthAdjust="spacingAndGlyphs">,</text>
<text x="575.78" y="207" style="font-size:10.5px;font-family:'Liberation Serif',serif;font-style:italic" textLength="5.77" lengthAdjust="spacingAndGlyphs">p</text>
<path d="M581.4 204.8 H587.3 M584.35 201.85 V207.75" stroke="#161616" stroke-width="0.8"/>
<text x="589.12" y="207" style="font-size:10.5px;font-family:'Liberation Serif',serif" textLength="6.19" lengthAdjust="spacingAndGlyphs">2</text>
<path d="M605.7 189.6 H602.3 V214 H605.7" stroke="#161616" stroke-width="1" fill="none"/>
<path d="M607 201.5 H615.8" stroke="#161616" stroke-width="0.95"/>
<path d="M625.77 189.72 C621.04 195.2 621.04 207.9 625.77 213.38" fill="none" stroke="#161616" stroke-width="1.25" stroke-linecap="round"/>
<text x="632.63" y="200" style="font-size:10.5px;font-family:'Liberation Serif',serif;font-style:italic" textLength="3.44" lengthAdjust="spacingAndGlyphs">t</text>
<path d="M629.5 201.6 H640.8" stroke="#161616" stroke-width="0.75"/>
<text x="630.21" y="209.2" style="font-size:10.5px;font-family:'Liberation Serif',serif;font-style:italic" textLength="4.43" lengthAdjust="spacingAndGlyphs">τ</text>
<text x="635.55" y="211.2" style="font-size:8.2px;font-family:'Liberation Serif',serif;font-style:italic" textLength="3.77" lengthAdjust="spacingAndGlyphs">s</text>
<path d="M644.52 189.72 C649.26 195.2 649.26 207.9 644.52 213.38" fill="none" stroke="#161616" stroke-width="1.25" stroke-linecap="round"/>
<text x="651.44" y="192.6" style="font-size:10.5px;font-family:'Liberation Serif',serif;font-style:italic" textLength="6.26" lengthAdjust="spacingAndGlyphs">α</text>
<path d="M659.7 189.6 H662.7 V214 H659.7" stroke="#161616" stroke-width="1" fill="none"/>
<text x="392.35" y="282" style="font-size:14.8px;font-family:'Liberation Serif',serif;font-style:italic" textLength="4.85" lengthAdjust="spacingAndGlyphs">i</text>
<text x="397.23" y="283.6" style="font-size:10.5px;font-family:'Liberation Serif',serif;font-style:italic" textLength="5.41" lengthAdjust="spacingAndGlyphs">c</text>
<text x="403.6" y="282" style="font-size:14.8px;font-family:'Liberation Serif',serif" textLength="4.54" lengthAdjust="spacingAndGlyphs">(</text>
<text x="408.42" y="282" style="font-size:14.8px;font-family:'Liberation Serif',serif;font-style:italic" textLength="4.85" lengthAdjust="spacingAndGlyphs">t</text>
<text x="414.76" y="282" style="font-size:14.8px;font-family:'Liberation Serif',serif" textLength="4.54" lengthAdjust="spacingAndGlyphs">)</text>
<path d="M426.5 277 H436.2 M426.5 280.2 H436.2" stroke="#161616" stroke-width="0.95"/>
<path d="M449.48 266.73 C444.74 272.2 444.74 284.9 449.48 290.38" fill="none" stroke="#161616" stroke-width="1.25" stroke-linecap="round"/>
<text x="452.94" y="275.2" style="font-size:10.5px;font-family:'Liberation Serif',serif;font-style:italic" textLength="7.95" lengthAdjust="spacingAndGlyphs">C</text>
<text x="461.34" y="276.7" style="font-size:8.2px;font-family:'Liberation Serif',serif;font-style:italic" textLength="5.08" lengthAdjust="spacingAndGlyphs">α</text>
<text x="467.95" y="275.2" style="font-size:10.5px;font-family:'Liberation Serif',serif;font-style:italic" textLength="7.57" lengthAdjust="spacingAndGlyphs">V</text>
<text x="477.01" y="276.7" style="font-size:8.2px;font-family:'Liberation Serif',serif;font-style:italic" textLength="8.59" lengthAdjust="spacingAndGlyphs">cc</text>
<text x="486.14" y="275.2" style="font-size:10.5px;font-family:'Liberation Serif',serif" textLength="7.16" lengthAdjust="spacingAndGlyphs">Γ</text>
<text x="494.14" y="275.2" style="font-size:10.5px;font-family:'Liberation Serif',serif" textLength="3.5" lengthAdjust="spacingAndGlyphs">(</text>
<text x="498.79" y="275.2" style="font-size:10.5px;font-family:'Liberation Serif',serif;font-style:italic" textLength="5.87" lengthAdjust="spacingAndGlyphs">p</text>
<path d="M504.8 272.1 H510.8 M507.8 269.1 V275.1" stroke="#161616" stroke-width="0.8"/>
<text x="511.73" y="275.2" style="font-size:10.5px;font-family:'Liberation Serif',serif" textLength="6.19" lengthAdjust="spacingAndGlyphs">1</text>
<text x="518.31" y="275.2" style="font-size:10.5px;font-family:'Liberation Serif',serif" textLength="4.02" lengthAdjust="spacingAndGlyphs">)</text>
<path d="M453.2 278.5 H523.1" stroke="#161616" stroke-width="0.75"/>
<text x="473.38" y="287.5" style="font-size:10.5px;font-family:'Liberation Serif',serif;font-style:italic" textLength="3.44" lengthAdjust="spacingAndGlyphs">t</text>
<text x="478.59" y="283.8" style="font-size:8.2px;font-family:'Liberation Serif',serif;font-style:italic" textLength="4.16" lengthAdjust="spacingAndGlyphs">p</text>
<text x="479.17" y="289.8" style="font-size:8.2px;font-family:'Liberation Serif',serif;font-style:italic" textLength="7.53" lengthAdjust="spacingAndGlyphs">ss</text>
<text x="488.76" y="287.5" style="font-size:10.5px;font-family:'Liberation Serif',serif;font-style:italic" textLength="4.43" lengthAdjust="spacingAndGlyphs">τ</text>
<text x="495.74" y="284.9" style="font-size:8.2px;font-family:'Liberation Serif',serif;font-style:italic" textLength="5.08" lengthAdjust="spacingAndGlyphs">α</text>
<text x="494.75" y="290.4" style="font-size:8.2px;font-family:'Liberation Serif',serif;font-style:italic" textLength="3.77" lengthAdjust="spacingAndGlyphs">s</text>
<path d="M526.83 266.73 C531.56 272.2 531.56 284.9 526.83 290.38" fill="none" stroke="#161616" stroke-width="1.25" stroke-linecap="round"/>
<text x="535.62" y="282" style="font-size:14.8px;font-family:'Liberation Serif',serif;font-style:italic" textLength="4.85" lengthAdjust="spacingAndGlyphs">t</text>
<text x="542.03" y="276.5" style="font-size:10.5px;font-family:'Liberation Serif',serif;font-style:italic" textLength="4.54" lengthAdjust="spacingAndGlyphs">p</text>
<text x="547.52" y="282" style="font-size:14.8px;font-family:'Liberation Serif',serif" textLength="10.1" lengthAdjust="spacingAndGlyphs">E</text>
<text x="557.34" y="284" style="font-size:10.5px;font-family:'Liberation Serif',serif;font-style:italic" textLength="6.36" lengthAdjust="spacingAndGlyphs">α</text>
<text x="565.22" y="284" style="font-size:10.5px;font-family:'Liberation Serif',serif" textLength="2.52" lengthAdjust="spacingAndGlyphs">,</text>
<text x="569.43" y="284" style="font-size:10.5px;font-family:'Liberation Serif',serif;font-style:italic" textLength="5.39" lengthAdjust="spacingAndGlyphs">p</text>
<path d="M574.6 281.8 H580.1 M577.35 279.05 V284.55" stroke="#161616" stroke-width="0.8"/>
<text x="582.53" y="284" style="font-size:10.5px;font-family:'Liberation Serif',serif" textLength="6.19" lengthAdjust="spacingAndGlyphs">1</text>
<path d="M598.5 266.6 H595.5 V290.5 H598.5" stroke="#161616" stroke-width="1" fill="none"/>
<path d="M599.9 278.4 H608.6" stroke="#161616" stroke-width="0.95"/>
<path d="M618.77 266.73 C614.04 272.2 614.04 284.9 618.77 290.38" fill="none" stroke="#161616" stroke-width="1.25" stroke-linecap="round"/>
<text x="625.63" y="277" style="font-size:10.5px;font-family:'Liberation Serif',serif;font-style:italic" textLength="3.44" lengthAdjust="spacingAndGlyphs">t</text>
<path d="M622.5 278.6 H633.8" stroke="#161616" stroke-width="0.75"/>
<text x="623.21" y="286.2" style="font-size:10.5px;font-family:'Liberation Serif',serif;font-style:italic" textLength="4.43" lengthAdjust="spacingAndGlyphs">τ</text>
<text x="628.55" y="288.2" style="font-size:8.2px;font-family:'Liberation Serif',serif;font-style:italic" textLength="3.77" lengthAdjust="spacingAndGlyphs">s</text>
<path d="M637.52 266.73 C642.26 272.2 642.26 284.9 637.52 290.38" fill="none" stroke="#161616" stroke-width="1.25" stroke-linecap="round"/>
<text x="644.44" y="269.6" style="font-size:10.5px;font-family:'Liberation Serif',serif;font-style:italic" textLength="6.26" lengthAdjust="spacingAndGlyphs">α</text>
<path d="M652.7 266.6 H655.7 V290.5 H652.7" stroke="#161616" stroke-width="1" fill="none"/>
<text x="380.7" y="358.7" style="font-size:14.8px;font-family:'Liberation Serif',serif;font-style:italic" textLength="6.6" lengthAdjust="spacingAndGlyphs">v</text>
<text x="387.24" y="360.4" style="font-size:10.5px;font-family:'Liberation Serif',serif;font-style:italic" textLength="5.93" lengthAdjust="spacingAndGlyphs">d</text>
<text x="394.55" y="358.7" style="font-size:14.8px;font-family:'Liberation Serif',serif" textLength="4.93" lengthAdjust="spacingAndGlyphs">(</text>
<text x="399.14" y="358.7" style="font-size:14.8px;font-family:'Liberation Serif',serif;font-style:italic" textLength="4.81" lengthAdjust="spacingAndGlyphs">t</text>
<text x="404.92" y="358.7" style="font-size:14.8px;font-family:'Liberation Serif',serif" textLength="4.93" lengthAdjust="spacingAndGlyphs">)</text>
<path d="M415.6 353.3 H424.8 M415.6 356.6 H424.8" stroke="#161616" stroke-width="0.95"/>
<text x="430.4" y="358.7" style="font-size:14.8px;font-family:'Liberation Serif',serif" textLength="4.54" lengthAdjust="spacingAndGlyphs">(</text>
<text x="433.73" y="358.7" style="font-size:14.8px;font-family:'Liberation Serif',serif;font-style:italic" textLength="8.96" lengthAdjust="spacingAndGlyphs">V</text>
<text x="444.15" y="360.4" style="font-size:10.5px;font-family:'Liberation Serif',serif;font-style:italic" textLength="10.18" lengthAdjust="spacingAndGlyphs">cc</text>
<path d="M459.4 355.3 H468.6" stroke="#161616" stroke-width="0.95"/>
<text x="473.89" y="358.7" style="font-size:14.8px;font-family:'Liberation Serif',serif;font-style:italic" textLength="10.39" lengthAdjust="spacingAndGlyphs">R</text>
<text x="483.86" y="360.2" style="font-size:10.5px;font-family:'Liberation Serif',serif;font-style:italic" textLength="4.6" lengthAdjust="spacingAndGlyphs">s</text>
<text x="490.1" y="358.7" style="font-size:14.8px;font-family:'Liberation Serif',serif;font-style:italic" textLength="4.85" lengthAdjust="spacingAndGlyphs">i</text>
<text x="494.73" y="360.2" style="font-size:10.5px;font-family:'Liberation Serif',serif;font-style:italic" textLength="5.5" lengthAdjust="spacingAndGlyphs">c</text>
<text x="501.75" y="358.7" style="font-size:14.8px;font-family:'Liberation Serif',serif" textLength="4.93" lengthAdjust="spacingAndGlyphs">(</text>
<text x="506.34" y="358.7" style="font-size:14.8px;font-family:'Liberation Serif',serif;font-style:italic" textLength="4.16" lengthAdjust="spacingAndGlyphs">t</text>
<text x="512.29" y="360.2" style="font-size:10.5px;font-family:'Liberation Serif',serif;font-style:italic" textLength="9.64" lengthAdjust="spacingAndGlyphs">ss</text>
<text x="523.8" y="358.7" style="font-size:14.8px;font-family:'Liberation Serif',serif" textLength="4.15" lengthAdjust="spacingAndGlyphs">)</text>
<text x="529.1" y="358.7" style="font-size:14.8px;font-family:'Liberation Serif',serif" textLength="4.15" lengthAdjust="spacingAndGlyphs">)</text>
<text x="549.7" y="351.7" style="font-size:10.5px;font-family:'Liberation Serif',serif;font-style:italic" textLength="7.57" lengthAdjust="spacingAndGlyphs">R</text>
<text x="556.91" y="352.4" style="font-size:8.2px;font-family:'Liberation Serif',serif;font-style:italic" textLength="4.84" lengthAdjust="spacingAndGlyphs">p</text>
<path d="M535.8 355.2 H574.4" stroke="#161616" stroke-width="0.75"/>
<text x="537.75" y="364" style="font-size:10.5px;font-family:'Liberation Serif',serif;font-style:italic" textLength="7.57" lengthAdjust="spacingAndGlyphs">R</text>
<text x="545.26" y="364.6" style="font-size:8.2px;font-family:'Liberation Serif',serif;font-style:italic" textLength="4.84" lengthAdjust="spacingAndGlyphs">p</text>
<path d="M551 361.6 H559.2 M555.1 357.5 V365.7" stroke="#161616" stroke-width="0.8"/>
<text x="562" y="364" style="font-size:10.5px;font-family:'Liberation Serif',serif;font-style:italic" textLength="7.57" lengthAdjust="spacingAndGlyphs">R</text>
<text x="569.8" y="365.1" style="font-size:8.2px;font-family:'Liberation Serif',serif;font-style:italic" textLength="3.77" lengthAdjust="spacingAndGlyphs">s</text>
<text x="576.89" y="359.3" style="font-size:14.8px;font-family:'Liberation Serif',serif" textLength="8.72" lengthAdjust="spacingAndGlyphs">E</text>
<text x="585.71" y="361" style="font-size:10.5px;font-family:'Liberation Serif',serif;font-style:italic" textLength="6.5" lengthAdjust="spacingAndGlyphs">α</text>
<text x="592.67" y="361" style="font-size:10.5px;font-family:'Liberation Serif',serif" textLength="2.85" lengthAdjust="spacingAndGlyphs">,</text>
<text x="595.68" y="361" style="font-size:10.5px;font-family:'Liberation Serif',serif" textLength="6.19" lengthAdjust="spacingAndGlyphs">1</text>
<path d="M612.3 343.4 H609.4 V366.7 H612.3" stroke="#161616" stroke-width="1" fill="none"/>
<path d="M613.8 355.4 H622.1" stroke="#161616" stroke-width="0.95"/>
<text x="638.13" y="353.2" style="font-size:10.5px;font-family:'Liberation Serif',serif;font-style:italic" textLength="3.44" lengthAdjust="spacingAndGlyphs">t</text>
<text x="643.11" y="350.3" style="font-size:7.4px;font-family:'Liberation Serif',serif;font-style:italic" textLength="4.58" lengthAdjust="spacingAndGlyphs">α</text>
<path d="M626 355.4 H663.2" stroke="#161616" stroke-width="0.75"/>
<text x="626.42" y="362.1" style="font-size:8.8px;font-family:'Liberation Serif',serif;font-style:italic" textLength="3.72" lengthAdjust="spacingAndGlyphs">τ</text>
<text x="634.08" y="360.8" style="font-size:6.6px;font-family:'Liberation Serif',serif;font-style:italic" textLength="4.09" lengthAdjust="spacingAndGlyphs">α</text>
<text x="632.55" y="365.7" style="font-size:7.2px;font-family:'Liberation Serif',serif;font-style:italic" textLength="4.25" lengthAdjust="spacingAndGlyphs">p</text>
<path d="M640.8 361 H647.5 M644.15 357.65 V364.35" stroke="#161616" stroke-width="0.8"/>
<text x="649.12" y="362.1" style="font-size:8.8px;font-family:'Liberation Serif',serif;font-style:italic" textLength="3.72" lengthAdjust="spacingAndGlyphs">τ</text>
<text x="656.18" y="360.8" style="font-size:6.6px;font-family:'Liberation Serif',serif;font-style:italic" textLength="4.09" lengthAdjust="spacingAndGlyphs">α</text>
<text x="654.87" y="366.9" style="font-size:7.2px;font-family:'Liberation Serif',serif;font-style:italic" textLength="3.31" lengthAdjust="spacingAndGlyphs">s</text>
<path d="M665.2 343.4 H668.1 V366.7 H665.2" stroke="#161616" stroke-width="1" fill="none"/>
<text x="64.23" y="54.2" style="font-size:16.2px;font-family:'Liberation Serif',serif;font-style:italic" textLength="7.1" lengthAdjust="spacingAndGlyphs">q</text>
<text x="70.64" y="55.4" style="font-size:11.5px;font-family:'Liberation Serif',serif;font-style:italic" textLength="5.18" lengthAdjust="spacingAndGlyphs">c</text>
<text x="77.57" y="54.2" style="font-size:16.2px;font-family:'Liberation Serif',serif" textLength="4.8" lengthAdjust="spacingAndGlyphs">(</text>
<text x="81.88" y="54.2" style="font-size:16.2px;font-family:'Liberation Serif',serif;font-style:italic" textLength="5.31" lengthAdjust="spacingAndGlyphs">t</text>
<text x="88.37" y="54.2" style="font-size:16.2px;font-family:'Liberation Serif',serif" textLength="4.32" lengthAdjust="spacingAndGlyphs">)</text>
<text x="95.18" y="54.2" style="font-size:16.2px;font-family:'Liberation Serif',serif" textLength="4.67" lengthAdjust="spacingAndGlyphs">(</text>
<text x="101.22" y="54.2" style="font-size:16.2px;font-family:'Liberation Serif',serif;font-style:italic" textLength="11.38" lengthAdjust="spacingAndGlyphs">E</text>
<text x="111.79" y="54.2" style="font-size:16.2px;font-family:'Liberation Serif',serif;font-style:italic" textLength="7.67" lengthAdjust="spacingAndGlyphs">q</text>
<text x="119.51" y="54.2" style="font-size:16.2px;font-family:'Liberation Serif',serif" textLength="4.78" lengthAdjust="spacingAndGlyphs">.</text>
<text x="125.68" y="54.2" style="font-size:16.2px;font-family:'Liberation Serif',serif" textLength="4.67" lengthAdjust="spacingAndGlyphs">(</text>
<text x="130.89" y="54.2" style="font-size:16.2px;font-family:'Liberation Serif',serif" textLength="7.14" lengthAdjust="spacingAndGlyphs">6</text>
<text x="139.52" y="54.2" style="font-size:16.2px;font-family:'Liberation Serif',serif" textLength="4.32" lengthAdjust="spacingAndGlyphs">)</text>
<text x="145.92" y="54.2" style="font-size:16.2px;font-family:'Liberation Serif',serif" textLength="4.32" lengthAdjust="spacingAndGlyphs">)</text>
<text x="31.09" y="362.2" style="font-size:16.2px;font-family:'Liberation Serif',serif;font-style:italic" textLength="6.81" lengthAdjust="spacingAndGlyphs">v</text>
<text x="37.57" y="363.5" style="font-size:11.5px;font-family:'Liberation Serif',serif;font-style:italic" textLength="5.4" lengthAdjust="spacingAndGlyphs">d</text>
<text x="44.22" y="362.2" style="font-size:16.2px;font-family:'Liberation Serif',serif" textLength="4.32" lengthAdjust="spacingAndGlyphs">(</text>
<text x="48.04" y="362.2" style="font-size:16.2px;font-family:'Liberation Serif',serif;font-style:italic" textLength="4.81" lengthAdjust="spacingAndGlyphs">t</text>
<text x="54.77" y="362.2" style="font-size:16.2px;font-family:'Liberation Serif',serif" textLength="4.32" lengthAdjust="spacingAndGlyphs">)</text>
<text x="61.32" y="362.2" style="font-size:16.2px;font-family:'Liberation Serif',serif" textLength="4.32" lengthAdjust="spacingAndGlyphs">(</text>
<text x="66.81" y="362.2" style="font-size:16.2px;font-family:'Liberation Serif',serif;font-style:italic" textLength="10.98" lengthAdjust="spacingAndGlyphs">E</text>
<text x="77.22" y="362.2" style="font-size:16.2px;font-family:'Liberation Serif',serif;font-style:italic" textLength="7.22" lengthAdjust="spacingAndGlyphs">q</text>
<text x="84.18" y="362.2" style="font-size:16.2px;font-family:'Liberation Serif',serif" textLength="4.23" lengthAdjust="spacingAndGlyphs">.</text>
<text x="89.08" y="362.2" style="font-size:16.2px;font-family:'Liberation Serif',serif" textLength="4.67" lengthAdjust="spacingAndGlyphs">(</text>
<text x="93.41" y="362.2" style="font-size:16.2px;font-family:'Liberation Serif',serif" textLength="7.42" lengthAdjust="spacingAndGlyphs">4</text>
<text x="101.72" y="362.2" style="font-size:16.2px;font-family:'Liberation Serif',serif" textLength="4.32" lengthAdjust="spacingAndGlyphs">)</text>
<text x="107.32" y="362.2" style="font-size:16.2px;font-family:'Liberation Serif',serif" textLength="4.32" lengthAdjust="spacingAndGlyphs">)</text>
<text x="55.35" y="91" style="font-size:18.6px;font-family:'Liberation Serif',serif;font-style:italic" textLength="12.99" lengthAdjust="spacingAndGlyphs">E</text>
<text x="68.91" y="84.2" style="font-size:11.5px;font-family:'Liberation Serif',serif;font-style:italic" textLength="5.63" lengthAdjust="spacingAndGlyphs">c</text>
<text x="68.44" y="95.7" style="font-size:11px;font-family:'Liberation Serif',serif" textLength="12.98" lengthAdjust="spacingAndGlyphs">10</text>
<text x="55.35" y="114" style="font-size:18.6px;font-family:'Liberation Serif',serif;font-style:italic" textLength="12.99" lengthAdjust="spacingAndGlyphs">E</text>
<text x="68.91" y="107.2" style="font-size:11.5px;font-family:'Liberation Serif',serif;font-style:italic" textLength="5.63" lengthAdjust="spacingAndGlyphs">c</text>
<text x="68.9" y="118.7" style="font-size:11px;font-family:'Liberation Serif',serif" textLength="12.98" lengthAdjust="spacingAndGlyphs">01</text>
<text x="50.44" y="244.4" style="font-size:16.6px;font-family:'Liberation Serif',serif;font-style:italic" textLength="11.97" lengthAdjust="spacingAndGlyphs">E</text>
<text x="63.26" y="238.3" style="font-size:10.8px;font-family:'Liberation Serif',serif;font-style:italic" textLength="6.37" lengthAdjust="spacingAndGlyphs">d</text>
<text x="62.01" y="248.4" style="font-size:10.4px;font-family:'Liberation Serif',serif" textLength="12.27" lengthAdjust="spacingAndGlyphs">10</text>
<text x="50.44" y="265.6" style="font-size:16.6px;font-family:'Liberation Serif',serif;font-style:italic" textLength="11.97" lengthAdjust="spacingAndGlyphs">E</text>
<text x="63.26" y="259.5" style="font-size:10.8px;font-family:'Liberation Serif',serif;font-style:italic" textLength="6.37" lengthAdjust="spacingAndGlyphs">d</text>
<text x="62.45" y="269.6" style="font-size:10.4px;font-family:'Liberation Serif',serif" textLength="12.27" lengthAdjust="spacingAndGlyphs">01</text>
</svg></body></html>
